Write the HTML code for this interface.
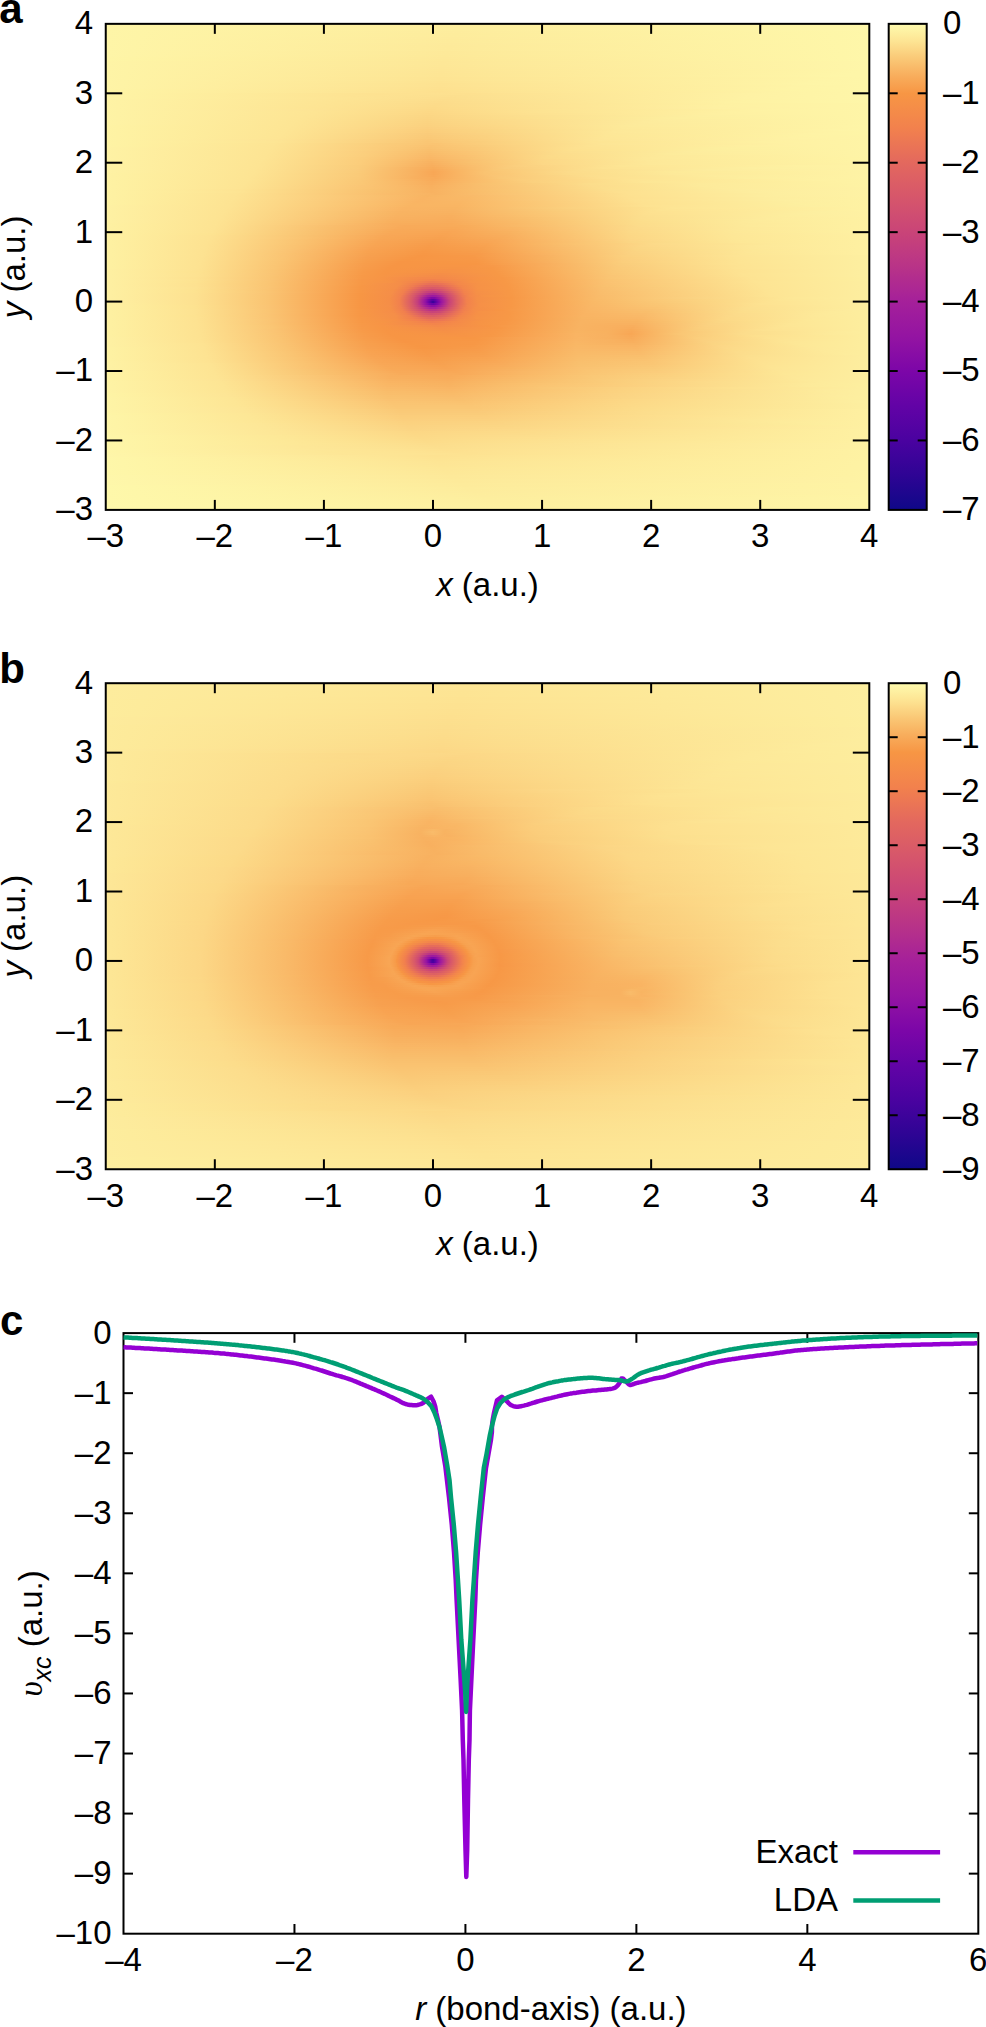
<!DOCTYPE html>
<html><head><meta charset="utf-8"><style>
html,body{margin:0;padding:0;background:#fff;width:986px;height:2027px;overflow:hidden;}
svg text{font-family:"Liberation Sans", sans-serif;fill:#000;}
.hm{position:absolute;overflow:hidden;}
.hm div{position:absolute;left:0;}
</style></head><body>
<div class="hm" style="left:105px;top:23px;width:765px;height:487px">
<div style="top:0px;height:2px;width:765px;background:linear-gradient(90deg,#fef6a8 0.5px,#fded9e 357.5px,#fef7aa 764.5px)"></div>
<div style="top:2px;height:2px;width:765px;background:linear-gradient(90deg,#fef5a7 0.5px,#fded9e 356.5px,#fef7aa 764.5px)"></div>
<div style="top:4px;height:2px;width:765px;background:linear-gradient(90deg,#fef5a7 0.5px,#fded9d 354.5px,#fef7aa 764.5px)"></div>
<div style="top:6px;height:2px;width:765px;background:linear-gradient(90deg,#fef5a7 0.5px,#fded9d 353.5px,#fef7aa 764.5px)"></div>
<div style="top:8px;height:2px;width:765px;background:linear-gradient(90deg,#fef5a7 0.5px,#fdec9d 352.5px,#fef7a9 764.5px)"></div>
<div style="top:10px;height:2px;width:765px;background:linear-gradient(90deg,#fef5a7 0.5px,#fdec9c 351.5px,#fef7a9 764.5px)"></div>
<div style="top:12px;height:2px;width:765px;background:linear-gradient(90deg,#fef5a7 0.5px,#fdec9c 350.5px,#fef7a9 764.5px)"></div>
<div style="top:14px;height:2px;width:765px;background:linear-gradient(90deg,#fef5a7 0.5px,#fdeb9c 348.5px,#fef7a9 764.5px)"></div>
<div style="top:16px;height:2px;width:765px;background:linear-gradient(90deg,#fef5a7 0.5px,#fdeb9b 347.5px,#fef7a9 764.5px)"></div>
<div style="top:18px;height:2px;width:765px;background:linear-gradient(90deg,#fef5a7 0.5px,#fdeb9b 346.5px,#fef7a9 764.5px)"></div>
<div style="top:20px;height:2px;width:765px;background:linear-gradient(90deg,#fef5a7 0.5px,#fdea9b 345.5px,#fef7a9 764.5px)"></div>
<div style="top:22px;height:2px;width:765px;background:linear-gradient(90deg,#fef5a7 0.5px,#fdea9a 344.5px,#fef7a9 764.5px)"></div>
<div style="top:24px;height:2px;width:765px;background:linear-gradient(90deg,#fef5a7 0.5px,#fdea9a 343.5px,#fef7a9 764.5px)"></div>
<div style="top:26px;height:2px;width:765px;background:linear-gradient(90deg,#fef5a7 0.5px,#fdea9a 343.5px,#fef7a9 764.5px)"></div>
<div style="top:28px;height:2px;width:765px;background:linear-gradient(90deg,#fef5a7 0.5px,#fde999 342.5px,#fef7a9 764.5px)"></div>
<div style="top:30px;height:2px;width:765px;background:linear-gradient(90deg,#fef5a7 0.5px,#fde999 341.5px,#fef7a9 764.5px)"></div>
<div style="top:32px;height:2px;width:765px;background:linear-gradient(90deg,#fef5a7 0.5px,#fde998 340.5px,#fef7a9 764.5px)"></div>
<div style="top:34px;height:2px;width:765px;background:linear-gradient(90deg,#fef5a6 0.5px,#fde898 339.5px,#fef7a9 764.5px)"></div>
<div style="top:36px;height:2px;width:765px;background:linear-gradient(90deg,#fef5a6 0.5px,#fde897 339.5px,#fef7a9 764.5px)"></div>
<div style="top:38px;height:2px;width:765px;background:linear-gradient(90deg,#fef4a6 0.5px,#fde797 338.5px,#fef6a9 764.5px)"></div>
<div style="top:40px;height:2px;width:765px;background:linear-gradient(90deg,#fef4a6 0.5px,#fde797 337.5px,#fef6a9 764.5px)"></div>
<div style="top:42px;height:2px;width:765px;background:linear-gradient(90deg,#fef4a6 0.5px,#fde796 337.5px,#fef6a9 764.5px)"></div>
<div style="top:44px;height:2px;width:765px;background:linear-gradient(90deg,#fef4a6 0.5px,#fde696 336.5px,#fef6a9 764.5px)"></div>
<div style="top:46px;height:2px;width:765px;background:linear-gradient(90deg,#fef4a6 0.5px,#fde695 336.5px,#fef6a8 757.5px,#fef6a8 764.5px)"></div>
<div style="top:48px;height:2px;width:765px;background:linear-gradient(90deg,#fef4a6 0.5px,#fde595 335.5px,#fef6a8 751.5px,#fef6a8 764.5px)"></div>
<div style="top:50px;height:2px;width:765px;background:linear-gradient(90deg,#fef4a6 0.5px,#fde594 335.5px,#fef6a8 744.5px,#fef6a8 764.5px)"></div>
<div style="top:52px;height:2px;width:765px;background:linear-gradient(90deg,#fef4a6 0.5px,#fde594 335.5px,#fef6a8 736.5px,#fef6a8 764.5px)"></div>
<div style="top:54px;height:2px;width:765px;background:linear-gradient(90deg,#fef4a6 0.5px,#fde493 334.5px,#fef5a7 730.5px,#fef6a8 764.5px)"></div>
<div style="top:56px;height:2px;width:765px;background:linear-gradient(90deg,#fef4a6 0.5px,#fde493 334.5px,#fef5a7 722.5px,#fef6a8 764.5px)"></div>
<div style="top:58px;height:2px;width:765px;background:linear-gradient(90deg,#fef4a6 0.5px,#fde392 334.5px,#fef5a7 714.5px,#fef6a8 764.5px)"></div>
<div style="top:60px;height:2px;width:765px;background:linear-gradient(90deg,#fef4a6 0.5px,#fde291 335.5px,#fef5a7 705.5px,#fef6a8 764.5px)"></div>
<div style="top:62px;height:2px;width:765px;background:linear-gradient(90deg,#fef4a6 0.5px,#fde291 334.5px,#fef4a6 698.5px,#fef6a8 764.5px)"></div>
<div style="top:64px;height:2px;width:765px;background:linear-gradient(90deg,#fef4a6 0.5px,#fde190 334.5px,#fef4a6 690.5px,#fef6a8 764.5px)"></div>
<div style="top:66px;height:2px;width:765px;background:linear-gradient(90deg,#fef4a5 0.5px,#fde18f 334.5px,#fef4a5 681.5px,#fef6a8 764.5px)"></div>
<div style="top:68px;height:2px;width:765px;background:linear-gradient(90deg,#fef4a5 0.5px,#fde08f 333.5px,#fef3a5 675.5px,#fef6a8 764.5px)"></div>
<div style="top:70px;height:2px;width:765px;background:linear-gradient(90deg,#fef4a5 0.5px,#fde291 263.5px,#fde08f 363.5px,#fef2a4 645.5px,#fef6a8 764.5px)"></div>
<div style="top:72px;height:2px;width:765px;background:linear-gradient(90deg,#fef4a5 0.5px,#fde392 247.5px,#fcdf8e 350.5px,#fef2a4 644.5px,#fef6a8 764.5px)"></div>
<div style="top:74px;height:2px;width:765px;background:linear-gradient(90deg,#fef4a5 0.5px,#fde493 238.5px,#fcde8d 343.5px,#fef2a4 641.5px,#fef6a8 764.5px)"></div>
<div style="top:76px;height:2px;width:765px;background:linear-gradient(90deg,#fef3a5 0.5px,#fde493 231.5px,#fcdd8c 339.5px,#fef2a3 636.5px,#fef6a8 764.5px)"></div>
<div style="top:78px;height:2px;width:765px;background:linear-gradient(90deg,#fef3a5 0.5px,#fde493 225.5px,#fcdc8b 335.5px,#fef2a3 630.5px,#fef6a8 764.5px)"></div>
<div style="top:80px;height:2px;width:765px;background:linear-gradient(90deg,#fef3a5 0.5px,#fde493 220.5px,#fcdb8a 332.5px,#fef1a2 624.5px,#fef5a7 764.5px)"></div>
<div style="top:82px;height:2px;width:765px;background:linear-gradient(90deg,#fef3a5 0.5px,#fde493 215.5px,#fcdb89 330.5px,#fef1a2 617.5px,#fef5a7 764.5px)"></div>
<div style="top:84px;height:2px;width:765px;background:linear-gradient(90deg,#fef3a5 0.5px,#fde493 211.5px,#fcda88 328.5px,#fef0a2 610.5px,#fef5a7 764.5px)"></div>
<div style="top:86px;height:2px;width:765px;background:linear-gradient(90deg,#fef3a5 0.5px,#fde494 207.5px,#fcd987 326.5px,#fde493 447.5px,#fef2a3 649.5px,#fef5a7 764.5px)"></div>
<div style="top:88px;height:2px;width:765px;background:linear-gradient(90deg,#fef3a5 0.5px,#fde594 203.5px,#fcd886 325.5px,#fde392 435.5px,#fef1a2 627.5px,#fef5a7 764.5px)"></div>
<div style="top:90px;height:2px;width:765px;background:linear-gradient(90deg,#fef3a5 0.5px,#fde594 200.5px,#fcd785 324.5px,#fde190 426.5px,#fef0a1 609.5px,#fef5a7 764.5px)"></div>
<div style="top:92px;height:2px;width:765px;background:linear-gradient(90deg,#fef3a5 0.5px,#fde594 197.5px,#fbd684 323.5px,#fcdf8e 418.5px,#fdefa0 592.5px,#fef5a7 764.5px)"></div>
<div style="top:94px;height:2px;width:765px;background:linear-gradient(90deg,#fef3a5 0.5px,#fde594 194.5px,#fbd583 322.5px,#fcde8c 410.5px,#fdee9e 569.5px,#fef5a7 764.5px)"></div>
<div style="top:96px;height:2px;width:765px;background:linear-gradient(90deg,#fef3a5 0.5px,#fde594 192.5px,#fbd482 322.5px,#fcdc8b 406.5px,#fdec9d 553.5px,#fef5a7 764.5px)"></div>
<div style="top:98px;height:2px;width:765px;background:linear-gradient(90deg,#fef3a5 0.5px,#fde594 189.5px,#fbd381 322.5px,#fcdb8a 403.5px,#fdeb9c 540.5px,#fef5a7 764.5px)"></div>
<div style="top:100px;height:2px;width:765px;background:linear-gradient(90deg,#fef3a5 0.5px,#fde594 187.5px,#fbd280 322.5px,#fcda89 399.5px,#fdea9b 529.5px,#fef5a7 764.5px)"></div>
<div style="top:102px;height:2px;width:765px;background:linear-gradient(90deg,#fef3a4 0.5px,#fde594 185.5px,#fbd17f 322.5px,#fcd987 396.5px,#fdea9a 522.5px,#fef5a7 758.5px,#fef5a7 764.5px)"></div>
<div style="top:104px;height:2px;width:765px;background:linear-gradient(90deg,#fef3a4 0.5px,#fde594 183.5px,#fbcf7e 322.5px,#fcd786 392.5px,#fde999 517.5px,#fef4a6 743.5px,#fef5a7 764.5px)"></div>
<div style="top:106px;height:2px;width:765px;background:linear-gradient(90deg,#fef3a4 0.5px,#fde594 181.5px,#fbce7c 322.5px,#fbd684 389.5px,#fde898 513.5px,#fef4a6 731.5px,#fef5a7 764.5px)"></div>
<div style="top:108px;height:2px;width:765px;background:linear-gradient(90deg,#fef3a4 0.5px,#fde594 179.5px,#fbcd7b 322.5px,#fbd583 386.5px,#fde898 509.5px,#fef3a5 719.5px,#fef5a6 764.5px)"></div>
<div style="top:110px;height:2px;width:765px;background:linear-gradient(90deg,#fef3a4 0.5px,#fde594 177.5px,#facb7a 322.5px,#fbd382 383.5px,#fde797 505.5px,#fef3a5 708.5px,#fef5a6 764.5px)"></div>
<div style="top:112px;height:2px;width:765px;background:linear-gradient(90deg,#fef3a4 0.5px,#fde594 175.5px,#faca78 323.5px,#fbd280 382.5px,#fde796 502.5px,#fef3a4 699.5px,#fef4a6 764.5px)"></div>
<div style="top:114px;height:2px;width:765px;background:linear-gradient(90deg,#fef3a4 0.5px,#fde594 173.5px,#fac977 323.5px,#fbd17f 379.5px,#fde696 498.5px,#fef2a4 688.5px,#fef4a6 764.5px)"></div>
<div style="top:116px;height:2px;width:765px;background:linear-gradient(90deg,#fef3a4 0.5px,#fde494 172.5px,#fac775 323.5px,#fbcf7d 375.5px,#fde595 492.5px,#fef1a3 673.5px,#fef4a6 764.5px)"></div>
<div style="top:118px;height:2px;width:765px;background:linear-gradient(90deg,#fef3a4 0.5px,#fde594 170.5px,#fac674 322.5px,#facd7b 371.5px,#fde493 486.5px,#fef1a2 659.5px,#fef4a6 764.5px)"></div>
<div style="top:120px;height:2px;width:765px;background:linear-gradient(90deg,#fef3a4 0.5px,#fde493 169.5px,#facc7a 281.5px,#fac472 329.5px,#fbd07e 388.5px,#fde595 497.5px,#fef1a3 678.5px,#fef4a6 764.5px)"></div>
<div style="top:122px;height:2px;width:765px;background:linear-gradient(90deg,#fef3a4 0.5px,#fde493 167.5px,#fbcd7b 274.5px,#fac270 326.5px,#facc7a 377.5px,#fde392 482.5px,#fef0a1 645.5px,#fef4a6 764.5px)"></div>
<div style="top:124px;height:2px;width:765px;background:linear-gradient(90deg,#fef2a4 0.5px,#fde493 166.5px,#fbcd7b 270.5px,#f9c16f 324.5px,#fac977 370.5px,#fde190 470.5px,#fdef9f 618.5px,#fef4a6 764.5px)"></div>
<div style="top:126px;height:2px;width:765px;background:linear-gradient(90deg,#fef2a4 0.5px,#fde493 164.5px,#fbce7c 266.5px,#f9bf6d 324.5px,#fac876 368.5px,#fde08e 464.5px,#fdee9e 604.5px,#fef4a6 764.5px)"></div>
<div style="top:128px;height:2px;width:765px;background:linear-gradient(90deg,#fef2a4 0.5px,#fde493 163.5px,#fbcd7c 264.5px,#f9bd6b 324.5px,#fac574 365.5px,#fcde8d 458.5px,#fdec9d 584.5px,#fef4a6 764.5px)"></div>
<div style="top:130px;height:2px;width:765px;background:linear-gradient(90deg,#fef2a4 0.5px,#fde493 161.5px,#fbce7c 261.5px,#f9bb69 324.5px,#fac472 363.5px,#fcdc8b 452.5px,#fdeb9b 565.5px,#fef4a6 764.5px)"></div>
<div style="top:132px;height:2px;width:765px;background:linear-gradient(90deg,#fef2a4 0.5px,#fde493 160.5px,#fbce7c 259.5px,#f9b968 324.5px,#fac170 360.5px,#fcdb89 445.5px,#fde999 551.5px,#fef4a6 764.5px)"></div>
<div style="top:134px;height:2px;width:765px;background:linear-gradient(90deg,#fef2a4 0.5px,#fde493 159.5px,#fbcd7b 258.5px,#f9b766 325.5px,#f9c16f 361.5px,#fcda88 442.5px,#fde999 547.5px,#fef4a5 764.5px)"></div>
<div style="top:136px;height:2px;width:765px;background:linear-gradient(90deg,#fef2a4 0.5px,#fde493 157.5px,#fbcd7b 256.5px,#f9b563 325.5px,#f9be6d 358.5px,#fcd786 435.5px,#fde898 540.5px,#fef4a5 764.5px)"></div>
<div style="top:138px;height:2px;width:765px;background:linear-gradient(90deg,#fef2a4 0.5px,#fde493 156.5px,#fbcd7b 255.5px,#f8b261 326.5px,#f9c06e 363.5px,#fcd886 438.5px,#fde898 544.5px,#fef4a5 764.5px)"></div>
<div style="top:140px;height:2px;width:765px;background:linear-gradient(90deg,#fef2a4 0.5px,#fde493 154.5px,#fbcd7b 254.5px,#f8b05f 326.5px,#f9bf6d 364.5px,#fcd786 437.5px,#fde898 543.5px,#fef3a5 764.5px)"></div>
<div style="top:142px;height:2px;width:765px;background:linear-gradient(90deg,#fef2a4 0.5px,#fde493 153.5px,#facc7a 254.5px,#f8ae5d 327.5px,#fbcf7e 410.5px,#fde594 515.5px,#fef1a2 692.5px,#fef3a5 764.5px)"></div>
<div style="top:144px;height:2px;width:765px;background:linear-gradient(90deg,#fef2a4 0.5px,#fde493 152.5px,#facc7a 253.5px,#f8b261 310.5px,#f8ac5a 328.5px,#facb7a 399.5px,#fde291 497.5px,#fdefa0 647.5px,#fef3a5 764.5px)"></div>
<div style="top:146px;height:2px;width:765px;background:linear-gradient(90deg,#fef2a4 0.5px,#fde493 150.5px,#facb7a 253.5px,#f8b261 308.5px,#f8a958 328.5px,#fac775 389.5px,#fcde8d 479.5px,#fdec9d 604.5px,#fef3a5 764.5px)"></div>
<div style="top:148px;height:2px;width:765px;background:linear-gradient(90deg,#fef2a4 0.5px,#fde493 149.5px,#facb79 253.5px,#f8b261 307.5px,#f8a756 328.5px,#fac371 379.5px,#fcdb8a 463.5px,#fdea99 569.5px,#fef3a5 764.5px)"></div>
<div style="top:150px;height:2px;width:765px;background:linear-gradient(90deg,#fef2a3 0.5px,#fde493 147.5px,#faca78 253.5px,#f8b261 307.5px,#f8a756 328.5px,#fac270 378.5px,#fcdb89 464.5px,#fde999 569.5px,#fef3a5 764.5px)"></div>
<div style="top:152px;height:2px;width:765px;background:linear-gradient(90deg,#fef2a3 0.5px,#fde493 146.5px,#faca78 253.5px,#f8b160 308.5px,#f8a857 328.5px,#fac574 388.5px,#fcde8d 485.5px,#fdec9c 608.5px,#fef3a5 764.5px)"></div>
<div style="top:154px;height:2px;width:765px;background:linear-gradient(90deg,#fef2a3 0.5px,#fde493 144.5px,#fac977 254.5px,#f8af5e 312.5px,#f8aa59 330.5px,#fac876 396.5px,#fde08f 499.5px,#fdee9e 638.5px,#fef3a5 764.5px)"></div>
<div style="top:156px;height:2px;width:765px;background:linear-gradient(90deg,#fef2a3 0.5px,#fde493 143.5px,#fac876 255.5px,#f8ab5a 327.5px,#fbcd7b 414.5px,#fde493 527.5px,#fef1a2 706.5px,#fef3a4 764.5px)"></div>
<div style="top:158px;height:2px;width:765px;background:linear-gradient(90deg,#fef2a3 0.5px,#fde493 141.5px,#fac775 257.5px,#f8ad5c 327.5px,#fbd07e 427.5px,#fde695 539.5px,#fef2a3 738.5px,#fef3a4 764.5px)"></div>
<div style="top:160px;height:2px;width:765px;background:linear-gradient(90deg,#fef2a3 0.5px,#fde493 139.5px,#fac674 259.5px,#f8ae5d 326.5px,#f9c06e 377.5px,#fcdd8b 485.5px,#fdea9a 593.5px,#fef3a4 764.5px)"></div>
<div style="top:162px;height:2px;width:765px;background:linear-gradient(90deg,#fef2a3 0.5px,#fde493 138.5px,#fac473 262.5px,#f8b05f 326.5px,#f9be6d 374.5px,#fcdc8b 487.5px,#fdea9a 594.5px,#fef3a4 764.5px)"></div>
<div style="top:164px;height:2px;width:765px;background:linear-gradient(90deg,#fef2a3 0.5px,#fde493 136.5px,#fac371 265.5px,#f8b160 326.5px,#f9be6d 375.5px,#fcde8c 496.5px,#fdeb9b 611.5px,#fef2a4 764.5px)"></div>
<div style="top:166px;height:2px;width:765px;background:linear-gradient(90deg,#fef2a3 0.5px,#fde392 135.5px,#f9c16f 270.5px,#f8b261 326.5px,#f9bf6d 377.5px,#fcdf8e 505.5px,#fdec9d 631.5px,#fef2a4 764.5px)"></div>
<div style="top:168px;height:2px;width:765px;background:linear-gradient(90deg,#fef2a3 0.5px,#fde493 133.5px,#f9bf6d 275.5px,#f8b261 326.5px,#f9bf6d 379.5px,#fde08f 512.5px,#fded9e 647.5px,#fef2a4 764.5px)"></div>
<div style="top:170px;height:2px;width:765px;background:linear-gradient(90deg,#fef2a3 0.5px,#fde392 132.5px,#f9bb6a 286.5px,#f8b362 330.5px,#fde190 522.5px,#fdee9f 669.5px,#fef2a4 764.5px)"></div>
<div style="top:172px;height:2px;width:765px;background:linear-gradient(90deg,#fef2a3 0.5px,#fde392 130.5px,#f8b462 321.5px,#f9ba69 366.5px,#fde08f 518.5px,#fded9e 655.5px,#fef2a4 764.5px)"></div>
<div style="top:174px;height:2px;width:765px;background:linear-gradient(90deg,#fef2a3 0.5px,#fde392 129.5px,#f9b463 318.5px,#f9b967 362.5px,#fde08f 523.5px,#fded9e 665.5px,#fef2a3 764.5px)"></div>
<div style="top:176px;height:2px;width:765px;background:linear-gradient(90deg,#fef2a3 0.5px,#fde392 127.5px,#f9b463 315.5px,#f9b867 360.5px,#fde190 528.5px,#fdee9f 676.5px,#fef2a3 764.5px)"></div>
<div style="top:178px;height:2px;width:765px;background:linear-gradient(90deg,#fef2a3 0.5px,#fde392 126.5px,#f9b463 311.5px,#f9b765 357.5px,#fde190 532.5px,#fdee9f 685.5px,#fef2a3 764.5px)"></div>
<div style="top:180px;height:2px;width:765px;background:linear-gradient(90deg,#fef2a3 0.5px,#fde392 124.5px,#f9b563 307.5px,#f9b664 354.5px,#fde190 536.5px,#fdef9f 694.5px,#fef2a3 764.5px)"></div>
<div style="top:182px;height:2px;width:765px;background:linear-gradient(90deg,#fef1a3 0.5px,#fde392 123.5px,#f9b563 303.5px,#f9b563 352.5px,#fde291 540.5px,#fdefa0 704.5px,#fef2a3 764.5px)"></div>
<div style="top:184px;height:2px;width:765px;background:linear-gradient(90deg,#fef1a3 0.5px,#fde392 121.5px,#f9b463 300.5px,#f8b462 350.5px,#fbd17f 465.5px,#fde594 567.5px,#fef2a3 764.5px)"></div>
<div style="top:186px;height:2px;width:765px;background:linear-gradient(90deg,#fef1a3 0.5px,#fde392 120.5px,#f9b463 297.5px,#f8b362 349.5px,#facc7a 451.5px,#fde392 554.5px,#fef1a2 747.5px,#fef2a3 764.5px)"></div>
<div style="top:188px;height:2px;width:765px;background:linear-gradient(90deg,#fef1a3 0.5px,#fde392 119.5px,#f8b362 295.5px,#f8b261 348.5px,#fac876 441.5px,#fde190 545.5px,#fdefa0 711.5px,#fef1a3 764.5px)"></div>
<div style="top:190px;height:2px;width:765px;background:linear-gradient(90deg,#fef1a3 0.5px,#fde392 117.5px,#f8b361 293.5px,#f8b15f 347.5px,#fac573 432.5px,#fde08f 541.5px,#fdee9f 694.5px,#fef1a3 764.5px)"></div>
<div style="top:192px;height:2px;width:765px;background:linear-gradient(90deg,#fef1a3 0.5px,#fde392 116.5px,#f8b261 292.5px,#f8af5e 346.5px,#fac270 425.5px,#fcdf8e 538.5px,#fded9d 677.5px,#fef1a3 764.5px)"></div>
<div style="top:194px;height:2px;width:765px;background:linear-gradient(90deg,#fef1a3 0.5px,#fde392 115.5px,#f8b160 290.5px,#f8ae5d 345.5px,#f9bf6d 420.5px,#fcde8d 535.5px,#fdeb9c 660.5px,#fef1a2 764.5px)"></div>
<div style="top:196px;height:2px;width:765px;background:linear-gradient(90deg,#fef1a3 0.5px,#fde392 114.5px,#f8b05f 289.5px,#f8ad5c 346.5px,#f9be6c 420.5px,#fcde8c 534.5px,#fdeb9b 651.5px,#fef1a2 764.5px)"></div>
<div style="top:198px;height:2px;width:765px;background:linear-gradient(90deg,#fef1a3 0.5px,#fde392 112.5px,#f8af5d 289.5px,#f8ac5b 347.5px,#f9bc6a 417.5px,#fcdd8b 532.5px,#fdea9a 641.5px,#fef1a2 764.5px)"></div>
<div style="top:200px;height:2px;width:765px;background:linear-gradient(90deg,#fef1a2 0.5px,#fde392 111.5px,#f8ad5c 288.5px,#f8ab59 346.5px,#f9b967 410.5px,#fcdc8a 530.5px,#fde999 636.5px,#fef1a2 764.5px)"></div>
<div style="top:202px;height:2px;width:765px;background:linear-gradient(90deg,#fef1a2 0.5px,#fde392 110.5px,#f9bc6b 231.5px,#f8aa59 299.5px,#f8ab59 357.5px,#f9be6d 431.5px,#fcdc8b 535.5px,#fdea9a 645.5px,#fef1a2 764.5px)"></div>
<div style="top:204px;height:2px;width:765px;background:linear-gradient(90deg,#fef1a2 0.5px,#fde392 109.5px,#f9be6c 223.5px,#f8aa59 294.5px,#f8a957 351.5px,#f9b765 412.5px,#fcda89 528.5px,#fde898 632.5px,#fef1a2 764.5px)"></div>
<div style="top:206px;height:2px;width:765px;background:linear-gradient(90deg,#fef1a2 0.5px,#fde392 108.5px,#f9bf6e 217.5px,#f8a958 290.5px,#f8a756 347.5px,#f9b463 407.5px,#fcd988 526.5px,#fde898 630.5px,#fef1a2 764.5px)"></div>
<div style="top:208px;height:2px;width:765px;background:linear-gradient(90deg,#fef1a2 0.5px,#fde392 107.5px,#f9c06e 213.5px,#f8a957 286.5px,#f8a554 343.5px,#f8b260 404.5px,#fcd987 525.5px,#fde897 629.5px,#fef1a2 764.5px)"></div>
<div style="top:210px;height:2px;width:765px;background:linear-gradient(90deg,#fef1a2 0.5px,#fde391 106.5px,#f9c16f 208.5px,#f8a857 283.5px,#f8a452 340.5px,#f8b05e 402.5px,#fcd886 524.5px,#fde797 628.5px,#fef0a2 764.5px)"></div>
<div style="top:212px;height:2px;width:765px;background:linear-gradient(90deg,#fef1a2 0.5px,#fde291 105.5px,#f9c16f 204.5px,#f8a756 279.5px,#f8a251 336.5px,#f8ad5c 398.5px,#fcd785 523.5px,#fde796 627.5px,#fef0a1 764.5px)"></div>
<div style="top:214px;height:2px;width:765px;background:linear-gradient(90deg,#fef1a2 0.5px,#fde291 104.5px,#fac270 201.5px,#f8a755 277.5px,#f7a14f 334.5px,#f8ab59 394.5px,#fcd785 524.5px,#fde796 629.5px,#fef0a1 764.5px)"></div>
<div style="top:216px;height:2px;width:765px;background:linear-gradient(90deg,#fef1a2 0.5px,#fde291 103.5px,#fac270 197.5px,#f8a655 274.5px,#f79f4e 331.5px,#f8a857 390.5px,#fcd685 525.5px,#fde796 631.5px,#fef0a1 764.5px)"></div>
<div style="top:218px;height:2px;width:765px;background:linear-gradient(90deg,#fef1a2 0.5px,#fde291 102.5px,#fac371 194.5px,#f8a554 272.5px,#f79e4c 329.5px,#f8a655 386.5px,#fbd684 526.5px,#fde796 634.5px,#fef0a1 764.5px)"></div>
<div style="top:220px;height:2px;width:765px;background:linear-gradient(90deg,#fef1a2 0.5px,#fde291 101.5px,#fac371 192.5px,#f8a553 270.5px,#f79c4b 326.5px,#f8a452 382.5px,#fac270 466.5px,#fcda89 548.5px,#fde999 667.5px,#fef0a1 764.5px)"></div>
<div style="top:222px;height:2px;width:765px;background:linear-gradient(90deg,#fef1a2 0.5px,#fde291 100.5px,#fac371 189.5px,#f8a453 268.5px,#f79b49 324.5px,#f8a250 380.5px,#f9bc6b 453.5px,#fcd786 536.5px,#fde898 651.5px,#fef0a1 764.5px)"></div>
<div style="top:224px;height:2px;width:765px;background:linear-gradient(90deg,#fef1a2 0.5px,#fde291 100.5px,#fac371 188.5px,#f8a352 266.5px,#f79a48 322.5px,#f7a04e 377.5px,#f9b968 448.5px,#fbd684 532.5px,#fde797 646.5px,#fef0a1 764.5px)"></div>
<div style="top:226px;height:2px;width:765px;background:linear-gradient(90deg,#fef1a2 0.5px,#fde291 99.5px,#fac372 185.5px,#f8a251 265.5px,#f79947 321.5px,#f79f4d 376.5px,#f9b867 448.5px,#fbd583 531.5px,#fde796 646.5px,#fef0a1 764.5px)"></div>
<div style="top:228px;height:2px;width:765px;background:linear-gradient(90deg,#fef1a2 0.5px,#fde291 98.5px,#fac372 183.5px,#f8a250 263.5px,#f79846 318.5px,#f79d4b 373.5px,#f9b664 444.5px,#fbd382 527.5px,#fde696 641.5px,#fef0a1 764.5px)"></div>
<div style="top:230px;height:2px;width:765px;background:linear-gradient(90deg,#fef1a2 0.5px,#fde291 98.5px,#fac371 182.5px,#f7a14f 263.5px,#f79745 318.5px,#f79b4a 373.5px,#f9b564 445.5px,#fbd281 526.5px,#fde695 641.5px,#fef0a1 764.5px)"></div>
<div style="top:232px;height:2px;width:765px;background:linear-gradient(90deg,#fef1a2 0.5px,#fde291 97.5px,#fac372 180.5px,#f7a04f 262.5px,#f79644 314.5px,#f79947 367.5px,#f8b05f 436.5px,#fbd07e 518.5px,#fde494 629.5px,#fdefa0 764.5px)"></div>
<div style="top:234px;height:2px;width:765px;background:linear-gradient(90deg,#fef1a2 0.5px,#fde291 96.5px,#fac472 178.5px,#f79f4e 261.5px,#f79644 307.5px,#f79847 369.5px,#f8b15f 439.5px,#fbcf7d 518.5px,#fde493 631.5px,#fdefa0 764.5px)"></div>
<div style="top:236px;height:2px;width:765px;background:linear-gradient(90deg,#fef1a2 0.5px,#fde291 96.5px,#fac472 177.5px,#f79f4d 260.5px,#f79644 301.5px,#f79846 371.5px,#f8b15f 441.5px,#fbce7d 518.5px,#fde493 633.5px,#fdefa0 764.5px)"></div>
<div style="top:238px;height:2px;width:765px;background:linear-gradient(90deg,#fef1a2 0.5px,#fde291 95.5px,#fac472 175.5px,#f79e4c 260.5px,#f79544 296.5px,#f79745 371.5px,#f8b05f 441.5px,#fbce7c 517.5px,#fde493 633.5px,#fdefa0 764.5px)"></div>
<div style="top:240px;height:2px;width:765px;background:linear-gradient(90deg,#fef1a2 0.5px,#fde291 95.5px,#fac472 174.5px,#f79d4b 259.5px,#f79544 292.5px,#f79644 371.5px,#f8ad5c 438.5px,#facc7a 513.5px,#fde392 627.5px,#fdefa0 764.5px)"></div>
<div style="top:242px;height:2px;width:765px;background:linear-gradient(90deg,#fef1a2 0.5px,#fde291 94.5px,#fac472 172.5px,#f79c4b 259.5px,#f79544 288.5px,#f79545 363.5px,#f79948 388.5px,#facb7a 514.5px,#fde392 632.5px,#fdefa0 764.5px)"></div>
<div style="top:244px;height:2px;width:765px;background:linear-gradient(90deg,#fef1a2 0.5px,#fde291 94.5px,#fac472 172.5px,#f79c4a 258.5px,#f79544 284.5px,#f69445 353.5px,#f79846 387.5px,#faca78 512.5px,#fde392 631.5px,#fdefa0 764.5px)"></div>
<div style="top:246px;height:2px;width:765px;background:linear-gradient(90deg,#fef0a2 0.5px,#fde291 93.5px,#fac472 170.5px,#f79b49 258.5px,#f79544 282.5px,#f69246 346.5px,#f79846 388.5px,#fac977 510.5px,#fde291 631.5px,#fdefa0 764.5px)"></div>
<div style="top:248px;height:2px;width:765px;background:linear-gradient(90deg,#fef0a2 0.5px,#fde290 93.5px,#fac472 170.5px,#f79a48 258.5px,#f79544 280.5px,#f69146 340.5px,#f79846 390.5px,#fac876 508.5px,#fde291 632.5px,#fdefa0 764.5px)"></div>
<div style="top:250px;height:2px;width:765px;background:linear-gradient(90deg,#fef0a2 0.5px,#fde291 92.5px,#fac473 168.5px,#f79a48 257.5px,#f79544 277.5px,#f58e47 336.5px,#f79846 392.5px,#fac775 507.5px,#fde392 637.5px,#fdefa0 764.5px)"></div>
<div style="top:252px;height:2px;width:765px;background:linear-gradient(90deg,#fef0a2 0.5px,#fde291 92.5px,#fac472 168.5px,#f79947 257.5px,#f79545 277.5px,#f48b49 333.5px,#f79846 394.5px,#fac574 505.5px,#fde392 640.5px,#fdefa0 764.5px)"></div>
<div style="top:254px;height:2px;width:765px;background:linear-gradient(90deg,#fef0a2 0.5px,#fde190 92.5px,#fac472 167.5px,#f79947 257.5px,#f79445 277.5px,#f4894a 317.5px,#f4894a 337.5px,#f79445 377.5px,#f79846 398.5px,#fac573 504.5px,#fde392 645.5px,#fdef9f 764.5px)"></div>
<div style="top:256px;height:2px;width:765px;background:linear-gradient(90deg,#fef0a2 0.5px,#fde291 91.5px,#fac473 166.5px,#f79847 256.5px,#f79445 278.5px,#f48a49 307.5px,#f2824d 328.5px,#f69345 372.5px,#f79846 399.5px,#fac371 502.5px,#fde392 647.5px,#fdef9f 764.5px)"></div>
<div style="top:258px;height:2px;width:765px;background:linear-gradient(90deg,#fef0a2 0.5px,#fde290 91.5px,#fac472 166.5px,#f79846 256.5px,#f69246 286.5px,#f3854b 309.5px,#ed7952 327.5px,#f2824d 342.5px,#f69146 366.5px,#f79846 399.5px,#fac271 501.5px,#fde493 651.5px,#fdee9f 764.5px)"></div>
<div style="top:260px;height:2px;width:765px;background:linear-gradient(90deg,#fef0a2 0.5px,#fde190 91.5px,#fac472 165.5px,#f79846 256.5px,#f58d48 295.5px,#ef7c50 312.5px,#e76f59 325.5px,#ea7356 336.5px,#f4884a 353.5px,#f69246 373.5px,#f79846 401.5px,#fac170 500.5px,#fde493 654.5px,#fdee9f 764.5px)"></div>
<div style="top:262px;height:2px;width:765px;background:linear-gradient(90deg,#fef0a2 0.5px,#fde190 91.5px,#fac472 165.5px,#f79745 256.5px,#f58e48 292.5px,#ef7d50 307.5px,#e2665f 321.5px,#e16560 332.5px,#e97257 342.5px,#f3854b 354.5px,#f69146 371.5px,#f79846 402.5px,#f9c16f 499.5px,#fde493 656.5px,#fdee9f 764.5px)"></div>
<div style="top:264px;height:2px;width:765px;background:linear-gradient(90deg,#fef0a2 0.5px,#fde291 90.5px,#fac473 164.5px,#f79745 255.5px,#f58e48 290.5px,#f07e4f 303.5px,#de6163 317.5px,#d85969 327.5px,#dd6064 337.5px,#ea7356 347.5px,#f3864b 357.5px,#f69246 373.5px,#f79846 403.5px,#f9bf6e 497.5px,#fde493 658.5px,#fdee9f 764.5px)"></div>
<div style="top:266px;height:2px;width:765px;background:linear-gradient(90deg,#fef0a2 0.5px,#fde290 90.5px,#fac472 164.5px,#f79745 255.5px,#f58e47 288.5px,#f17f4e 300.5px,#d7576a 317.5px,#cf4c72 326.5px,#d2516f 334.5px,#e76e5a 348.5px,#f3844c 358.5px,#f69146 372.5px,#f79846 404.5px,#f9be6d 496.5px,#fde493 660.5px,#fdee9f 764.5px)"></div>
<div style="top:268px;height:2px;width:765px;background:linear-gradient(90deg,#fef0a2 0.5px,#fde290 90.5px,#fac573 163.5px,#f79745 255.5px,#f58e48 287.5px,#f1804e 298.5px,#c84379 321.5px,#c23d7f 328.5px,#ca4577 335.5px,#f2824d 358.5px,#f59047 371.5px,#f79846 404.5px,#f9bd6c 495.5px,#fde493 662.5px,#fdee9f 764.5px)"></div>
<div style="top:270px;height:2px;width:765px;background:linear-gradient(90deg,#fef0a2 0.5px,#fde190 90.5px,#fac473 163.5px,#f79644 255.5px,#f58e48 286.5px,#f17f4e 297.5px,#ce4b73 314.5px,#b32e8d 324.5px,#b02b8f 329.5px,#bf3a81 336.5px,#e2675f 350.5px,#f2814d 359.5px,#f58f47 371.5px,#f79846 405.5px,#f9bc6b 493.5px,#fde493 663.5px,#fdee9f 764.5px)"></div>
<div style="top:272px;height:2px;width:765px;background:linear-gradient(90deg,#fef0a2 0.5px,#fde190 90.5px,#fac472 163.5px,#f79644 255.5px,#f58e47 285.5px,#f2814d 295.5px,#d5556c 309.5px,#be3982 316.5px,#a5209a 322.5px,#9b199f 327.5px,#9f1c9d 331.5px,#a92496 334.5px,#cd4a74 343.5px,#ed7952 357.5px,#f4884a 364.5px,#f69246 378.5px,#f79846 406.5px,#f9bb6a 492.5px,#fde493 664.5px,#fdee9f 764.5px)"></div>
<div style="top:274px;height:2px;width:765px;background:linear-gradient(90deg,#fef0a2 0.5px,#fde190 90.5px,#fac472 163.5px,#f79644 255.5px,#f58e47 284.5px,#f2824d 294.5px,#da5c67 306.5px,#c43f7d 313.5px,#a41f9b 319.5px,#7f08a7 326.5px,#7f08a7 329.5px,#a41f9a 336.5px,#c94478 343.5px,#e16660 352.5px,#f2824d 361.5px,#f58f47 372.5px,#f79745 405.5px,#f9bb69 491.5px,#fbd382 589.5px,#fde796 684.5px,#fdee9f 764.5px)"></div>
<div style="top:276px;height:2px;width:765px;background:linear-gradient(90deg,#fef0a2 0.5px,#fde190 90.5px,#fac472 163.5px,#f79644 255.5px,#f58e47 284.5px,#f2814d 294.5px,#d95a68 306.5px,#c5407c 312.5px,#a11e9c 318.5px,#8b0fa4 321.5px,#7705a8 323.5px,#5a03a4 326.5px,#5602a3 327.5px,#5602a3 328.5px,#6203a6 330.5px,#8109a7 333.5px,#9514a2 335.5px,#a82397 338.5px,#c94478 344.5px,#e06461 352.5px,#f2814d 361.5px,#f58f47 372.5px,#f79846 406.5px,#f9ba68 489.5px,#fbcf7d 577.5px,#fde594 672.5px,#fdee9f 764.5px)"></div>
<div style="top:278px;height:2px;width:765px;background:linear-gradient(90deg,#fef0a2 0.5px,#fde190 90.5px,#fac472 163.5px,#f79644 255.5px,#f58e47 284.5px,#f2814d 294.5px,#d85969 306.5px,#c43f7d 312.5px,#9f1c9d 318.5px,#9112a3 320.5px,#7b06a8 322.5px,#5602a3 325.5px,#3c039a 327.5px,#3c039a 328.5px,#6203a6 331.5px,#7c06a8 333.5px,#9917a0 336.5px,#a62199 338.5px,#c43f7d 343.5px,#de6163 351.5px,#f2814d 361.5px,#f58f47 372.5px,#f79846 406.5px,#f9b967 488.5px,#facc7a 569.5px,#fde392 662.5px,#fdee9f 764.5px)"></div>
<div style="top:280px;height:2px;width:765px;background:linear-gradient(90deg,#fef1a2 0.5px,#fde190 90.5px,#fac472 163.5px,#f79644 255.5px,#f58e47 284.5px,#f2814d 294.5px,#d95b68 306.5px,#c6417b 312.5px,#a41f9a 318.5px,#880da5 322.5px,#7705a8 324.5px,#6904a7 326.5px,#6603a6 328.5px,#6f05a7 330.5px,#7f08a7 332.5px,#9817a0 335.5px,#ab2695 338.5px,#ca4677 344.5px,#e76f59 355.5px,#f2834c 362.5px,#f69047 374.5px,#f79846 406.5px,#f9b866 486.5px,#fac977 563.5px,#fde291 654.5px,#fdee9f 764.5px)"></div>
<div style="top:282px;height:2px;width:765px;background:linear-gradient(90deg,#fef1a2 0.5px,#fde290 90.5px,#fac473 163.5px,#f79644 255.5px,#f58e48 285.5px,#f1804e 295.5px,#d6566b 308.5px,#c23d7f 314.5px,#a41f9a 320.5px,#8c10a4 326.5px,#8c10a4 329.5px,#a41f9a 335.5px,#ca4677 343.5px,#e97257 355.5px,#f3844c 362.5px,#f69047 374.5px,#f79846 406.5px,#f9b766 485.5px,#fac674 556.5px,#fde08f 648.5px,#fdee9f 764.5px)"></div>
<div style="top:284px;height:2px;width:765px;background:linear-gradient(90deg,#fef1a2 0.5px,#fde290 90.5px,#fac473 163.5px,#f79644 255.5px,#f58e47 285.5px,#f1804e 296.5px,#d2506f 311.5px,#b42f8c 320.5px,#a5209a 325.5px,#a5209a 330.5px,#bb3685 337.5px,#d5546c 345.5px,#f1804e 359.5px,#f58e47 370.5px,#f79846 405.5px,#f9b665 483.5px,#fac371 550.5px,#fcdf8e 642.5px,#fdee9e 761.5px,#fdee9e 764.5px)"></div>
<div style="top:286px;height:2px;width:765px;background:linear-gradient(90deg,#fef1a2 0.5px,#fde291 90.5px,#fac573 163.5px,#f79745 255.5px,#f58e47 286.5px,#f1804e 297.5px,#cc4875 316.5px,#ba3586 324.5px,#b93487 330.5px,#ca4577 338.5px,#f07e4f 357.5px,#f58d48 368.5px,#f79544 395.5px,#f79f4d 422.5px,#f9b665 484.5px,#f9c06f 546.5px,#fcde8d 638.5px,#fdec9d 745.5px,#fdee9e 764.5px)"></div>
<div style="top:288px;height:2px;width:765px;background:linear-gradient(90deg,#fef1a2 0.5px,#fde291 90.5px,#fac573 163.5px,#f79745 255.5px,#f58d48 288.5px,#f17f4e 299.5px,#ce4b73 320.5px,#c84379 327.5px,#cc4975 334.5px,#e97357 351.5px,#f3844c 359.5px,#f69146 373.5px,#f79846 404.5px,#f9b564 481.5px,#f9be6c 542.5px,#fcdd8b 633.5px,#fdeb9b 728.5px,#fdee9e 764.5px)"></div>
<div style="top:290px;height:2px;width:765px;background:linear-gradient(90deg,#fef1a2 0.5px,#fde291 90.5px,#fac473 164.5px,#f79745 255.5px,#f58e48 289.5px,#f17f4e 301.5px,#da5c67 317.5px,#d3516e 326.5px,#d7576a 335.5px,#e76f59 347.5px,#f3844c 357.5px,#f69046 371.5px,#f79846 404.5px,#f9b463 479.5px,#f9bb6a 539.5px,#fcdb8a 629.5px,#fdea9a 718.5px,#fdee9e 764.5px)"></div>
<div style="top:292px;height:2px;width:765px;background:linear-gradient(90deg,#fef1a2 0.5px,#fde290 91.5px,#fac472 165.5px,#f79745 255.5px,#f58e48 291.5px,#f17f4f 304.5px,#e06461 318.5px,#db5e66 328.5px,#e2675f 339.5px,#f3854b 355.5px,#f69146 371.5px,#f79846 403.5px,#f9b463 478.5px,#f9b968 536.5px,#fcda89 625.5px,#fde999 711.5px,#fdee9e 764.5px)"></div>
<div style="top:294px;height:2px;width:765px;background:linear-gradient(90deg,#fef1a2 0.5px,#fde291 91.5px,#fac473 165.5px,#f79846 255.5px,#f58f47 290.5px,#f17f4e 307.5px,#e4695d 323.5px,#e46a5d 333.5px,#f3864b 353.5px,#f69246 371.5px,#f79846 402.5px,#f8b462 477.5px,#f9b766 534.5px,#fcd987 621.5px,#fde898 706.5px,#fdee9e 764.5px)"></div>
<div style="top:296px;height:2px;width:765px;background:linear-gradient(90deg,#fef1a2 0.5px,#fde291 91.5px,#fac573 165.5px,#f79846 256.5px,#f69046 290.5px,#f2804e 311.5px,#ea7456 325.5px,#ed7853 337.5px,#f48b49 355.5px,#f69445 379.5px,#f79846 402.5px,#f8b362 476.5px,#f9b563 532.5px,#fcd886 617.5px,#fde897 701.5px,#fdee9e 764.5px)"></div>
<div style="top:298px;height:2px;width:765px;background:linear-gradient(90deg,#fef1a2 0.5px,#fde291 91.5px,#fac473 166.5px,#f79846 256.5px,#f69445 279.5px,#f48a49 305.5px,#f07d50 327.5px,#f4884a 347.5px,#f69345 372.5px,#f79846 400.5px,#f8b362 475.5px,#f8b361 531.5px,#fbd684 612.5px,#fde796 694.5px,#fdee9e 764.5px)"></div>
<div style="top:300px;height:2px;width:765px;background:linear-gradient(90deg,#fef1a2 0.5px,#fde291 92.5px,#fac472 167.5px,#f79947 256.5px,#f79445 276.5px,#f48a49 309.5px,#f3844c 330.5px,#f69445 374.5px,#f79846 399.5px,#f8b362 474.5px,#f8b160 509.5px,#f8b160 531.5px,#fbd382 605.5px,#fde695 685.5px,#fdee9e 764.5px)"></div>
<div style="top:302px;height:2px;width:765px;background:linear-gradient(90deg,#fef1a2 0.5px,#fde291 92.5px,#fac573 167.5px,#f79948 256.5px,#f79545 276.5px,#f4894a 332.5px,#f79544 384.5px,#f79d4b 410.5px,#f8b362 474.5px,#f8b05f 507.5px,#f8ae5d 528.5px,#fbd180 600.5px,#fde594 678.5px,#fdee9e 764.5px)"></div>
<div style="top:304px;height:2px;width:765px;background:linear-gradient(90deg,#fef1a2 0.5px,#fde291 92.5px,#fac573 168.5px,#f79a48 256.5px,#f79544 277.5px,#f58d48 334.5px,#f79745 393.5px,#f8b362 473.5px,#f8b05f 504.5px,#f8ac5b 527.5px,#fbcf7d 594.5px,#fde392 668.5px,#fdee9e 764.5px)"></div>
<div style="top:306px;height:2px;width:765px;background:linear-gradient(90deg,#fef1a2 0.5px,#fde291 93.5px,#fac473 169.5px,#f79a49 257.5px,#f79544 279.5px,#f58f47 337.5px,#f79846 392.5px,#f8b362 472.5px,#f8b05f 503.5px,#f8aa58 526.5px,#facc7a 587.5px,#fde190 656.5px,#fdee9e 764.5px)"></div>
<div style="top:308px;height:2px;width:765px;background:linear-gradient(90deg,#fef1a2 0.5px,#fde291 93.5px,#fac473 170.5px,#f79b49 257.5px,#f79544 281.5px,#f69146 342.5px,#f79846 390.5px,#f8b462 472.5px,#f8b15f 502.5px,#f8a857 526.5px,#fac775 577.5px,#fcdd8c 641.5px,#fdec9c 740.5px,#fdee9e 764.5px)"></div>
<div style="top:310px;height:2px;width:765px;background:linear-gradient(90deg,#fef1a2 0.5px,#fde291 94.5px,#fac472 172.5px,#f79c4a 258.5px,#f79544 284.5px,#f69345 349.5px,#f79846 388.5px,#f9b463 471.5px,#f8b160 501.5px,#f8a755 525.5px,#fac674 573.5px,#fcdc8b 636.5px,#fdea9a 725.5px,#fdee9e 764.5px)"></div>
<div style="top:312px;height:2px;width:765px;background:linear-gradient(90deg,#fef1a2 0.5px,#fde291 94.5px,#fac473 172.5px,#f79c4b 258.5px,#f79544 287.5px,#f79445 359.5px,#f79846 386.5px,#f9b463 471.5px,#f8b160 502.5px,#f8a958 526.5px,#faca78 583.5px,#fde08e 650.5px,#fdee9e 764.5px)"></div>
<div style="top:314px;height:2px;width:765px;background:linear-gradient(90deg,#fef1a3 0.5px,#fde291 95.5px,#fac472 174.5px,#f79d4c 258.5px,#f79544 291.5px,#f79644 369.5px,#f8a655 423.5px,#f9b564 474.5px,#f8b05f 505.5px,#f8ab5a 526.5px,#fbce7c 591.5px,#fde291 663.5px,#fdee9e 764.5px)"></div>
<div style="top:316px;height:2px;width:765px;background:linear-gradient(90deg,#fef1a3 0.5px,#fde291 95.5px,#fac472 175.5px,#f79e4c 259.5px,#f79544 295.5px,#f79745 372.5px,#f9b564 471.5px,#f8b261 504.5px,#f8ad5c 527.5px,#fbd07f 597.5px,#fde493 674.5px,#fdee9e 764.5px)"></div>
<div style="top:318px;height:2px;width:765px;background:linear-gradient(90deg,#fef1a3 0.5px,#fde291 96.5px,#fac472 176.5px,#f79f4d 260.5px,#f79544 300.5px,#f79846 372.5px,#f9b665 471.5px,#f8b261 505.5px,#f8af5e 528.5px,#fbd382 604.5px,#fde695 684.5px,#fdee9e 764.5px)"></div>
<div style="top:320px;height:2px;width:765px;background:linear-gradient(90deg,#fef1a3 0.5px,#fde392 96.5px,#fac473 177.5px,#f7a04e 260.5px,#f79644 306.5px,#f79846 370.5px,#f9b765 471.5px,#f8b362 508.5px,#f8b261 531.5px,#fbd583 609.5px,#fde796 691.5px,#fdee9e 764.5px)"></div>
<div style="top:322px;height:2px;width:765px;background:linear-gradient(90deg,#fef1a3 0.5px,#fde392 97.5px,#fac472 179.5px,#f7a04f 261.5px,#f79644 312.5px,#f79947 368.5px,#f9b866 472.5px,#f9b463 530.5px,#fcd786 616.5px,#fde897 700.5px,#fdee9e 764.5px)"></div>
<div style="top:324px;height:2px;width:765px;background:linear-gradient(90deg,#fef2a3 0.5px,#fde392 98.5px,#fac472 181.5px,#f7a150 262.5px,#f79644 317.5px,#f79b49 372.5px,#f9b867 471.5px,#f9b665 531.5px,#fcd988 621.5px,#fde898 706.5px,#fdee9e 764.5px)"></div>
<div style="top:326px;height:2px;width:765px;background:linear-gradient(90deg,#fef2a3 0.5px,#fde392 98.5px,#fac472 182.5px,#f8a250 263.5px,#f79846 318.5px,#f79c4b 373.5px,#f9b968 471.5px,#f9b867 532.5px,#fcdb89 627.5px,#fde999 714.5px,#fdee9e 764.5px)"></div>
<div style="top:328px;height:2px;width:765px;background:linear-gradient(90deg,#fef2a3 0.5px,#fde392 99.5px,#fac472 185.5px,#f8a351 264.5px,#f79947 320.5px,#f79e4c 375.5px,#f9ba68 471.5px,#f9bb69 534.5px,#fcdc8b 631.5px,#fdea9a 723.5px,#fdee9e 764.5px)"></div>
<div style="top:330px;height:2px;width:765px;background:linear-gradient(90deg,#fef2a3 0.5px,#fde392 100.5px,#fac472 187.5px,#f8a352 266.5px,#f79a48 322.5px,#f7a04e 378.5px,#f9bb69 472.5px,#f9bc6b 535.5px,#fcdd8c 636.5px,#fdec9c 739.5px,#fdee9e 764.5px)"></div>
<div style="top:332px;height:2px;width:765px;background:linear-gradient(90deg,#fef2a3 0.5px,#fde392 101.5px,#fac371 190.5px,#f8a453 267.5px,#f79b4a 323.5px,#f7a150 379.5px,#f9bc6a 472.5px,#f9bf6d 537.5px,#fcdf8e 641.5px,#fded9e 758.5px,#fdee9e 764.5px)"></div>
<div style="top:334px;height:2px;width:765px;background:linear-gradient(90deg,#fef2a3 0.5px,#fde392 101.5px,#fac472 191.5px,#f8a554 269.5px,#f79d4b 326.5px,#f8a452 383.5px,#f9bd6b 472.5px,#f9c16f 539.5px,#fde08f 645.5px,#fdee9f 764.5px)"></div>
<div style="top:336px;height:2px;width:765px;background:linear-gradient(90deg,#fef2a3 0.5px,#fde392 102.5px,#fac371 194.5px,#f8a655 271.5px,#f79e4c 328.5px,#f8a654 386.5px,#f9be6c 473.5px,#fac371 541.5px,#fde190 650.5px,#fdee9f 764.5px)"></div>
<div style="top:338px;height:2px;width:765px;background:linear-gradient(90deg,#fef2a4 0.5px,#fde392 103.5px,#fac371 197.5px,#f8a655 274.5px,#f7a04e 331.5px,#f8a857 391.5px,#f9bf6d 473.5px,#fac573 544.5px,#fde291 654.5px,#fdee9f 764.5px)"></div>
<div style="top:340px;height:2px;width:765px;background:linear-gradient(90deg,#fef2a4 0.5px,#fde493 104.5px,#fac371 200.5px,#f8a756 277.5px,#f7a150 334.5px,#f8ab5a 396.5px,#f9c06e 474.5px,#fac674 546.5px,#fde392 659.5px,#fdee9f 764.5px)"></div>
<div style="top:342px;height:2px;width:765px;background:linear-gradient(90deg,#fef2a4 0.5px,#fde493 105.5px,#fac270 204.5px,#f8a857 280.5px,#f8a351 338.5px,#f8ae5d 403.5px,#f9c16f 475.5px,#fac876 549.5px,#fde493 662.5px,#fdee9f 764.5px)"></div>
<div style="top:344px;height:2px;width:765px;background:linear-gradient(90deg,#fef2a4 0.5px,#fde493 106.5px,#fac170 208.5px,#f8a957 283.5px,#f8a453 341.5px,#f8b15f 406.5px,#fac271 477.5px,#faca78 551.5px,#fde594 667.5px,#fdee9f 764.5px)"></div>
<div style="top:346px;height:2px;width:765px;background:linear-gradient(90deg,#fef2a4 0.5px,#fde493 107.5px,#f9c16f 213.5px,#f8a958 287.5px,#f8a655 345.5px,#f8b362 409.5px,#fac472 480.5px,#facc7a 553.5px,#fde595 671.5px,#fdee9f 764.5px)"></div>
<div style="top:348px;height:2px;width:765px;background:linear-gradient(90deg,#fef3a4 0.5px,#fde493 108.5px,#f9c06e 219.5px,#f8aa59 291.5px,#f8a857 350.5px,#f9b665 415.5px,#fac573 484.5px,#fbcd7c 556.5px,#fde695 675.5px,#fdee9f 764.5px)"></div>
<div style="top:350px;height:2px;width:765px;background:linear-gradient(90deg,#fef3a4 0.5px,#fde493 109.5px,#f9bf6d 225.5px,#f8ab5a 296.5px,#f8aa59 356.5px,#fac674 484.5px,#fbd07e 561.5px,#fde796 679.5px,#fdee9f 764.5px)"></div>
<div style="top:352px;height:2px;width:765px;background:linear-gradient(90deg,#fef3a4 0.5px,#fde493 111.5px,#f8af5e 284.5px,#f8ab5a 344.5px,#f9b866 411.5px,#fac876 486.5px,#fbd280 567.5px,#fde797 684.5px,#fdee9f 764.5px)"></div>
<div style="top:354px;height:2px;width:765px;background:linear-gradient(90deg,#fef3a4 0.5px,#fde493 112.5px,#f8b05f 284.5px,#f8ac5b 343.5px,#f9ba69 415.5px,#fac977 490.5px,#fbd483 574.5px,#fde898 690.5px,#fdee9f 764.5px)"></div>
<div style="top:356px;height:2px;width:765px;background:linear-gradient(90deg,#fef3a4 0.5px,#fde494 113.5px,#f8b261 284.5px,#f8ae5d 343.5px,#f9bd6b 420.5px,#facb79 496.5px,#fcd786 584.5px,#fde999 698.5px,#fdee9f 764.5px)"></div>
<div style="top:358px;height:2px;width:765px;background:linear-gradient(90deg,#fef3a5 0.5px,#fde594 114.5px,#f9b463 283.5px,#f8b05f 343.5px,#f9bf6d 423.5px,#facc7a 502.5px,#fcdb8a 601.5px,#fdeb9b 717.5px,#fdee9f 764.5px)"></div>
<div style="top:360px;height:2px;width:765px;background:linear-gradient(90deg,#fef3a5 0.5px,#fde594 115.5px,#f9b664 283.5px,#f8b260 344.5px,#fac270 429.5px,#fbce7c 513.5px,#fdea9a 703.5px,#fdef9f 764.5px)"></div>
<div style="top:362px;height:2px;width:765px;background:linear-gradient(90deg,#fef3a5 0.5px,#fde594 117.5px,#f9b766 282.5px,#f8b362 344.5px,#fac472 433.5px,#fbd07f 526.5px,#fdea9a 701.5px,#fdef9f 764.5px)"></div>
<div style="top:364px;height:2px;width:765px;background:linear-gradient(90deg,#fef3a5 0.5px,#fde594 118.5px,#f9b968 282.5px,#f9b564 345.5px,#fac876 447.5px,#fde190 628.5px,#fdefa0 764.5px)"></div>
<div style="top:366px;height:2px;width:765px;background:linear-gradient(90deg,#fef3a5 0.5px,#fde594 119.5px,#f9bb69 282.5px,#f9b766 346.5px,#fbd17f 506.5px,#fdeb9c 719.5px,#fdefa0 764.5px)"></div>
<div style="top:368px;height:2px;width:765px;background:linear-gradient(90deg,#fef3a5 0.5px,#fde594 121.5px,#f9bd6b 281.5px,#f9b967 347.5px,#fbd280 509.5px,#fdec9c 723.5px,#fdefa0 764.5px)"></div>
<div style="top:370px;height:2px;width:765px;background:linear-gradient(90deg,#fef4a5 0.5px,#fde595 122.5px,#f9be6c 281.5px,#f9bb69 348.5px,#fbd382 512.5px,#fdec9d 728.5px,#fdefa0 764.5px)"></div>
<div style="top:372px;height:2px;width:765px;background:linear-gradient(90deg,#fef4a5 0.5px,#fde595 124.5px,#f9c06e 281.5px,#f9bc6b 349.5px,#fbd483 515.5px,#fded9e 734.5px,#fdefa0 764.5px)"></div>
<div style="top:374px;height:2px;width:765px;background:linear-gradient(90deg,#fef4a6 0.5px,#fde695 125.5px,#f9c16f 282.5px,#f9be6d 351.5px,#fbd584 517.5px,#fdee9e 741.5px,#fdefa0 764.5px)"></div>
<div style="top:376px;height:2px;width:765px;background:linear-gradient(90deg,#fef4a6 0.5px,#fde695 127.5px,#fac271 284.5px,#f9c06e 354.5px,#fcd785 520.5px,#fdee9f 748.5px,#fdefa0 764.5px)"></div>
<div style="top:378px;height:2px;width:765px;background:linear-gradient(90deg,#fef4a6 0.5px,#fde695 129.5px,#fac472 286.5px,#fac270 358.5px,#fcd886 522.5px,#fdefa0 757.5px,#fdefa0 764.5px)"></div>
<div style="top:380px;height:2px;width:765px;background:linear-gradient(90deg,#fef4a6 0.5px,#fde695 130.5px,#fac573 288.5px,#fac472 361.5px,#fcd987 524.5px,#fdefa0 764.5px)"></div>
<div style="top:382px;height:2px;width:765px;background:linear-gradient(90deg,#fef4a6 0.5px,#fde695 132.5px,#fac674 290.5px,#fac674 365.5px,#fcda88 527.5px,#fdefa0 764.5px)"></div>
<div style="top:384px;height:2px;width:765px;background:linear-gradient(90deg,#fef4a6 0.5px,#fde696 134.5px,#fac775 292.5px,#fac775 369.5px,#fcdb89 528.5px,#fdefa0 764.5px)"></div>
<div style="top:386px;height:2px;width:765px;background:linear-gradient(90deg,#fef4a6 0.5px,#fde696 136.5px,#fac977 294.5px,#fac977 372.5px,#fcdc8a 532.5px,#fef0a1 764.5px)"></div>
<div style="top:388px;height:2px;width:765px;background:linear-gradient(90deg,#fef4a6 0.5px,#fde696 138.5px,#faca78 294.5px,#faca79 371.5px,#fcdd8c 540.5px,#fef0a1 764.5px)"></div>
<div style="top:390px;height:2px;width:765px;background:linear-gradient(90deg,#fef5a6 0.5px,#fde796 140.5px,#facb7a 295.5px,#facc7a 374.5px,#fcde8d 548.5px,#fef0a1 764.5px)"></div>
<div style="top:392px;height:2px;width:765px;background:linear-gradient(90deg,#fef5a7 0.5px,#fde796 143.5px,#fbcd7b 296.5px,#fbce7c 377.5px,#fde08f 561.5px,#fef0a1 764.5px)"></div>
<div style="top:394px;height:2px;width:765px;background:linear-gradient(90deg,#fef5a7 0.5px,#fde796 145.5px,#fbce7c 297.5px,#fbcf7e 380.5px,#fde595 615.5px,#fef0a1 764.5px)"></div>
<div style="top:396px;height:2px;width:765px;background:linear-gradient(90deg,#fef5a7 0.5px,#fde796 147.5px,#fbcf7e 298.5px,#fbd17f 384.5px,#fde898 642.5px,#fef0a1 764.5px)"></div>
<div style="top:398px;height:2px;width:765px;background:linear-gradient(90deg,#fef5a7 0.5px,#fde796 150.5px,#fbd17f 299.5px,#fbd381 387.5px,#fdeb9b 676.5px,#fef0a1 764.5px)"></div>
<div style="top:400px;height:2px;width:765px;background:linear-gradient(90deg,#fef5a7 0.5px,#fde797 153.5px,#fbd280 301.5px,#fbd483 392.5px,#fdee9e 719.5px,#fef0a1 764.5px)"></div>
<div style="top:402px;height:2px;width:765px;background:linear-gradient(90deg,#fef5a7 0.5px,#fde797 156.5px,#fbd382 302.5px,#fbd684 396.5px,#fef0a1 760.5px,#fef0a1 764.5px)"></div>
<div style="top:404px;height:2px;width:765px;background:linear-gradient(90deg,#fef5a7 0.5px,#fde797 158.5px,#fbd483 304.5px,#fcd786 402.5px,#fef0a2 764.5px)"></div>
<div style="top:406px;height:2px;width:765px;background:linear-gradient(90deg,#fef5a7 0.5px,#fde797 162.5px,#fbd584 306.5px,#fcd988 408.5px,#fef1a2 764.5px)"></div>
<div style="top:408px;height:2px;width:765px;background:linear-gradient(90deg,#fef5a7 0.5px,#fde797 165.5px,#fcd785 308.5px,#fcdb89 415.5px,#fef1a2 764.5px)"></div>
<div style="top:410px;height:2px;width:765px;background:linear-gradient(90deg,#fef5a8 0.5px,#fde797 168.5px,#fcd886 310.5px,#fcdc8b 424.5px,#fef1a2 764.5px)"></div>
<div style="top:412px;height:2px;width:765px;background:linear-gradient(90deg,#fef6a8 0.5px,#fde897 172.5px,#fcd987 312.5px,#fcde8d 434.5px,#fef1a2 764.5px)"></div>
<div style="top:414px;height:2px;width:765px;background:linear-gradient(90deg,#fef6a8 0.5px,#fde897 176.5px,#fcda88 315.5px,#fde08f 452.5px,#fef1a2 764.5px)"></div>
<div style="top:416px;height:2px;width:765px;background:linear-gradient(90deg,#fef6a8 0.5px,#fde897 180.5px,#fcdb89 318.5px,#fde999 612.5px,#fef1a2 764.5px)"></div>
<div style="top:418px;height:2px;width:765px;background:linear-gradient(90deg,#fef6a8 0.5px,#fde897 185.5px,#fcdc8a 322.5px,#fef1a2 764.5px)"></div>
<div style="top:420px;height:2px;width:765px;background:linear-gradient(90deg,#fef6a8 0.5px,#fde897 190.5px,#fcdd8c 326.5px,#fef1a3 764.5px)"></div>
<div style="top:422px;height:2px;width:765px;background:linear-gradient(90deg,#fef6a8 0.5px,#fde797 196.5px,#fcde8d 330.5px,#fef1a3 764.5px)"></div>
<div style="top:424px;height:2px;width:765px;background:linear-gradient(90deg,#fef6a8 0.5px,#fde797 202.5px,#fcdf8e 335.5px,#fef1a3 764.5px)"></div>
<div style="top:426px;height:2px;width:765px;background:linear-gradient(90deg,#fef6a8 0.5px,#fde797 210.5px,#fde08f 342.5px,#fef2a3 764.5px)"></div>
<div style="top:428px;height:2px;width:765px;background:linear-gradient(90deg,#fef6a8 0.5px,#fde796 220.5px,#fde190 350.5px,#fef2a3 764.5px)"></div>
<div style="top:430px;height:2px;width:765px;background:linear-gradient(90deg,#fef6a9 0.5px,#fde696 236.5px,#fde291 364.5px,#fef2a3 764.5px)"></div>
<div style="top:432px;height:2px;width:765px;background:linear-gradient(90deg,#fef6a9 0.5px,#fde291 331.5px,#fef2a3 764.5px)"></div>
<div style="top:434px;height:2px;width:765px;background:linear-gradient(90deg,#fef7a9 0.5px,#fde392 331.5px,#fef2a3 764.5px)"></div>
<div style="top:436px;height:2px;width:765px;background:linear-gradient(90deg,#fef7a9 0.5px,#fde493 332.5px,#fef2a3 759.5px,#fef2a3 764.5px)"></div>
<div style="top:438px;height:2px;width:765px;background:linear-gradient(90deg,#fef7a9 0.5px,#fde594 333.5px,#fef2a3 752.5px,#fef2a4 764.5px)"></div>
<div style="top:440px;height:2px;width:765px;background:linear-gradient(90deg,#fef7a9 0.5px,#fde595 335.5px,#fef2a3 750.5px,#fef2a4 764.5px)"></div>
<div style="top:442px;height:2px;width:765px;background:linear-gradient(90deg,#fef7a9 0.5px,#fde695 337.5px,#fef2a3 748.5px,#fef2a4 764.5px)"></div>
<div style="top:444px;height:2px;width:765px;background:linear-gradient(90deg,#fef7a9 0.5px,#fde796 339.5px,#fef2a3 746.5px,#fef2a4 764.5px)"></div>
<div style="top:446px;height:2px;width:765px;background:linear-gradient(90deg,#fef7a9 0.5px,#fde797 341.5px,#fef2a3 745.5px,#fef2a4 764.5px)"></div>
<div style="top:448px;height:2px;width:765px;background:linear-gradient(90deg,#fef7a9 0.5px,#fde897 343.5px,#fef2a3 743.5px,#fef3a4 764.5px)"></div>
<div style="top:450px;height:2px;width:765px;background:linear-gradient(90deg,#fef7a9 0.5px,#fde898 345.5px,#fef2a3 742.5px,#fef3a4 764.5px)"></div>
<div style="top:452px;height:2px;width:765px;background:linear-gradient(90deg,#fef7aa 0.5px,#fde999 347.5px,#fef2a3 741.5px,#fef3a4 764.5px)"></div>
<div style="top:454px;height:2px;width:765px;background:linear-gradient(90deg,#fef7aa 0.5px,#fde999 349.5px,#fef2a4 741.5px,#fef3a4 764.5px)"></div>
<div style="top:456px;height:2px;width:765px;background:linear-gradient(90deg,#fef7aa 0.5px,#fdea9a 352.5px,#fef2a4 742.5px,#fef3a5 764.5px)"></div>
<div style="top:458px;height:2px;width:765px;background:linear-gradient(90deg,#fef7aa 0.5px,#fdea9a 355.5px,#fef2a4 743.5px,#fef3a5 764.5px)"></div>
<div style="top:460px;height:2px;width:765px;background:linear-gradient(90deg,#fef7aa 0.5px,#fdeb9b 358.5px,#fef3a4 744.5px,#fef3a5 764.5px)"></div>
<div style="top:462px;height:2px;width:765px;background:linear-gradient(90deg,#fef8aa 0.5px,#fdeb9b 361.5px,#fef3a4 746.5px,#fef3a5 764.5px)"></div>
<div style="top:464px;height:2px;width:765px;background:linear-gradient(90deg,#fef8aa 0.5px,#fdec9c 364.5px,#fef3a4 747.5px,#fef3a5 764.5px)"></div>
<div style="top:466px;height:2px;width:765px;background:linear-gradient(90deg,#fef8aa 0.5px,#fdec9c 367.5px,#fef3a5 749.5px,#fef3a5 764.5px)"></div>
<div style="top:468px;height:2px;width:765px;background:linear-gradient(90deg,#fef8aa 0.5px,#fdec9d 371.5px,#fef3a5 753.5px,#fef4a5 764.5px)"></div>
<div style="top:470px;height:2px;width:765px;background:linear-gradient(90deg,#fef8aa 0.5px,#fded9d 375.5px,#fef3a5 756.5px,#fef4a5 764.5px)"></div>
<div style="top:472px;height:2px;width:765px;background:linear-gradient(90deg,#fef8aa 0.5px,#fded9e 379.5px,#fef4a5 761.5px,#fef4a5 764.5px)"></div>
<div style="top:474px;height:2px;width:765px;background:linear-gradient(90deg,#fef8aa 0.5px,#fdee9e 383.5px,#fef4a6 764.5px)"></div>
<div style="top:476px;height:2px;width:765px;background:linear-gradient(90deg,#fef8aa 0.5px,#fdee9f 388.5px,#fef4a6 764.5px)"></div>
<div style="top:478px;height:2px;width:765px;background:linear-gradient(90deg,#fef8aa 0.5px,#fdee9f 393.5px,#fef4a6 764.5px)"></div>
<div style="top:480px;height:2px;width:765px;background:linear-gradient(90deg,#fef8ab 0.5px,#fdef9f 398.5px,#fef4a6 764.5px)"></div>
<div style="top:482px;height:2px;width:765px;background:linear-gradient(90deg,#fef8ab 0.5px,#fdefa0 404.5px,#fef4a6 764.5px)"></div>
<div style="top:484px;height:2px;width:765px;background:linear-gradient(90deg,#fef8ab 0.5px,#fdefa0 411.5px,#fef4a6 764.5px)"></div>
<div style="top:486px;height:1px;width:765px;background:linear-gradient(90deg,#fef8ab 0.5px,#fdefa0 416.5px,#fef4a6 764.5px)"></div>
</div>
<div class="hm" style="left:105px;top:683px;width:765px;height:487px">
<div style="top:0px;height:2px;width:765px;background:linear-gradient(90deg,#fded9d 0.5px,#fde594 363.5px,#fdef9f 764.5px)"></div>
<div style="top:2px;height:2px;width:765px;background:linear-gradient(90deg,#fded9d 0.5px,#fde594 361.5px,#fdef9f 764.5px)"></div>
<div style="top:4px;height:2px;width:765px;background:linear-gradient(90deg,#fdec9d 0.5px,#fde594 360.5px,#fdef9f 764.5px)"></div>
<div style="top:6px;height:2px;width:765px;background:linear-gradient(90deg,#fdec9d 0.5px,#fde494 358.5px,#fdee9f 764.5px)"></div>
<div style="top:8px;height:2px;width:765px;background:linear-gradient(90deg,#fdec9d 0.5px,#fde493 357.5px,#fdee9f 764.5px)"></div>
<div style="top:10px;height:2px;width:765px;background:linear-gradient(90deg,#fdec9d 0.5px,#fde493 356.5px,#fdee9f 764.5px)"></div>
<div style="top:12px;height:2px;width:765px;background:linear-gradient(90deg,#fdec9d 0.5px,#fde493 355.5px,#fdee9f 764.5px)"></div>
<div style="top:14px;height:2px;width:765px;background:linear-gradient(90deg,#fdec9d 0.5px,#fde392 355.5px,#fdee9f 764.5px)"></div>
<div style="top:16px;height:2px;width:765px;background:linear-gradient(90deg,#fdec9c 0.5px,#fde392 354.5px,#fdee9f 764.5px)"></div>
<div style="top:18px;height:2px;width:765px;background:linear-gradient(90deg,#fdec9c 0.5px,#fde392 353.5px,#fdee9f 764.5px)"></div>
<div style="top:20px;height:2px;width:765px;background:linear-gradient(90deg,#fdec9c 0.5px,#fde291 352.5px,#fdee9f 764.5px)"></div>
<div style="top:22px;height:2px;width:765px;background:linear-gradient(90deg,#fdec9c 0.5px,#fde291 351.5px,#fdee9f 764.5px)"></div>
<div style="top:24px;height:2px;width:765px;background:linear-gradient(90deg,#fdec9c 0.5px,#fde291 350.5px,#fdee9f 764.5px)"></div>
<div style="top:26px;height:2px;width:765px;background:linear-gradient(90deg,#fdec9c 0.5px,#fde190 349.5px,#fdee9f 764.5px)"></div>
<div style="top:28px;height:2px;width:765px;background:linear-gradient(90deg,#fdec9c 0.5px,#fde190 348.5px,#fdee9f 764.5px)"></div>
<div style="top:30px;height:2px;width:765px;background:linear-gradient(90deg,#fdec9c 0.5px,#fde18f 347.5px,#fdee9f 764.5px)"></div>
<div style="top:32px;height:2px;width:765px;background:linear-gradient(90deg,#fdec9c 0.5px,#fde08f 346.5px,#fdee9f 764.5px)"></div>
<div style="top:34px;height:2px;width:765px;background:linear-gradient(90deg,#fdeb9c 0.5px,#fde08f 345.5px,#fdee9e 764.5px)"></div>
<div style="top:36px;height:2px;width:765px;background:linear-gradient(90deg,#fdeb9c 0.5px,#fddf8e 344.5px,#fdee9e 764.5px)"></div>
<div style="top:38px;height:2px;width:765px;background:linear-gradient(90deg,#fdeb9c 0.5px,#fcdf8e 343.5px,#fdee9e 764.5px)"></div>
<div style="top:40px;height:2px;width:765px;background:linear-gradient(90deg,#fdeb9c 0.5px,#fcdf8d 342.5px,#fdee9e 764.5px)"></div>
<div style="top:42px;height:2px;width:765px;background:linear-gradient(90deg,#fdeb9b 0.5px,#fcde8d 342.5px,#fdee9e 764.5px)"></div>
<div style="top:44px;height:2px;width:765px;background:linear-gradient(90deg,#fdeb9b 0.5px,#fcde8d 341.5px,#fded9e 764.5px)"></div>
<div style="top:46px;height:2px;width:765px;background:linear-gradient(90deg,#fdeb9b 0.5px,#fcdd8c 340.5px,#fded9e 764.5px)"></div>
<div style="top:48px;height:2px;width:765px;background:linear-gradient(90deg,#fdeb9b 0.5px,#fcdd8c 340.5px,#fded9e 764.5px)"></div>
<div style="top:50px;height:2px;width:765px;background:linear-gradient(90deg,#fdeb9b 0.5px,#fcdd8b 339.5px,#fded9e 764.5px)"></div>
<div style="top:52px;height:2px;width:765px;background:linear-gradient(90deg,#fdeb9b 0.5px,#fcdc8b 338.5px,#fded9e 764.5px)"></div>
<div style="top:54px;height:2px;width:765px;background:linear-gradient(90deg,#fdeb9b 0.5px,#fcdc8a 338.5px,#fded9e 760.5px,#fded9e 764.5px)"></div>
<div style="top:56px;height:2px;width:765px;background:linear-gradient(90deg,#fdeb9b 0.5px,#fcdb8a 337.5px,#fded9d 749.5px,#fded9e 764.5px)"></div>
<div style="top:58px;height:2px;width:765px;background:linear-gradient(90deg,#fdeb9b 0.5px,#fcdb89 337.5px,#fdec9d 737.5px,#fded9e 764.5px)"></div>
<div style="top:60px;height:2px;width:765px;background:linear-gradient(90deg,#fdeb9b 0.5px,#fcda89 337.5px,#fdec9d 726.5px,#fded9e 764.5px)"></div>
<div style="top:62px;height:2px;width:765px;background:linear-gradient(90deg,#fdeb9b 0.5px,#fcda88 336.5px,#fdec9c 715.5px,#fded9e 764.5px)"></div>
<div style="top:64px;height:2px;width:765px;background:linear-gradient(90deg,#fdeb9b 0.5px,#fcd988 336.5px,#fdeb9c 704.5px,#fded9d 764.5px)"></div>
<div style="top:66px;height:2px;width:765px;background:linear-gradient(90deg,#fdea9b 0.5px,#fcd887 336.5px,#fdeb9b 692.5px,#fded9d 764.5px)"></div>
<div style="top:68px;height:2px;width:765px;background:linear-gradient(90deg,#fdea9a 0.5px,#fcd886 335.5px,#fdeb9b 682.5px,#fded9d 764.5px)"></div>
<div style="top:70px;height:2px;width:765px;background:linear-gradient(90deg,#fdea9a 0.5px,#fcda89 254.5px,#fcd887 367.5px,#fde999 645.5px,#fded9d 764.5px)"></div>
<div style="top:72px;height:2px;width:765px;background:linear-gradient(90deg,#fdea9a 0.5px,#fcdb8a 241.5px,#fcd786 356.5px,#fde999 643.5px,#fded9d 764.5px)"></div>
<div style="top:74px;height:2px;width:765px;background:linear-gradient(90deg,#fdea9a 0.5px,#fcdb8a 232.5px,#fcd685 349.5px,#fde999 640.5px,#fded9d 764.5px)"></div>
<div style="top:76px;height:2px;width:765px;background:linear-gradient(90deg,#fdea9a 0.5px,#fcdc8a 226.5px,#fbd684 345.5px,#fde999 637.5px,#fded9d 764.5px)"></div>
<div style="top:78px;height:2px;width:765px;background:linear-gradient(90deg,#fdea9a 0.5px,#fcdc8a 220.5px,#fbd583 341.5px,#fde998 634.5px,#fded9d 764.5px)"></div>
<div style="top:80px;height:2px;width:765px;background:linear-gradient(90deg,#fdea9a 0.5px,#fcdc8b 215.5px,#fbd483 338.5px,#fde898 630.5px,#fdec9d 764.5px)"></div>
<div style="top:82px;height:2px;width:765px;background:linear-gradient(90deg,#fdea9a 0.5px,#fcdc8b 211.5px,#fbd482 336.5px,#fde898 627.5px,#fdec9d 764.5px)"></div>
<div style="top:84px;height:2px;width:765px;background:linear-gradient(90deg,#fdea9a 0.5px,#fcdc8b 207.5px,#fbd381 334.5px,#fde898 624.5px,#fdec9d 764.5px)"></div>
<div style="top:86px;height:2px;width:765px;background:linear-gradient(90deg,#fdea9a 0.5px,#fcdc8b 203.5px,#fbd280 332.5px,#fde897 620.5px,#fdec9d 764.5px)"></div>
<div style="top:88px;height:2px;width:765px;background:linear-gradient(90deg,#fdea9a 0.5px,#fcdc8b 200.5px,#fbd180 330.5px,#fde797 617.5px,#fdec9d 764.5px)"></div>
<div style="top:90px;height:2px;width:765px;background:linear-gradient(90deg,#fdea9a 0.5px,#fcdc8b 197.5px,#fbd07f 329.5px,#fde797 613.5px,#fdec9d 764.5px)"></div>
<div style="top:92px;height:2px;width:765px;background:linear-gradient(90deg,#fdea9a 0.5px,#fcdc8b 194.5px,#fbd07e 328.5px,#fde796 608.5px,#fdec9c 764.5px)"></div>
<div style="top:94px;height:2px;width:765px;background:linear-gradient(90deg,#fdea9a 0.5px,#fcdc8b 191.5px,#fbcf7d 328.5px,#fde696 603.5px,#fdec9c 764.5px)"></div>
<div style="top:96px;height:2px;width:765px;background:linear-gradient(90deg,#fdea9a 0.5px,#fcdc8b 189.5px,#fbce7c 327.5px,#fde696 599.5px,#fdec9c 764.5px)"></div>
<div style="top:98px;height:2px;width:765px;background:linear-gradient(90deg,#fdea99 0.5px,#fcdc8b 186.5px,#fbcd7b 326.5px,#fde695 594.5px,#fdec9c 764.5px)"></div>
<div style="top:100px;height:2px;width:765px;background:linear-gradient(90deg,#fde999 0.5px,#fcdc8b 184.5px,#facc7a 326.5px,#fde595 589.5px,#fdec9c 764.5px)"></div>
<div style="top:102px;height:2px;width:765px;background:linear-gradient(90deg,#fde999 0.5px,#fcdc8b 182.5px,#facb79 326.5px,#fde594 583.5px,#fdec9c 764.5px)"></div>
<div style="top:104px;height:2px;width:765px;background:linear-gradient(90deg,#fde999 0.5px,#fcdc8b 179.5px,#faca78 326.5px,#fde594 577.5px,#fdec9c 764.5px)"></div>
<div style="top:106px;height:2px;width:765px;background:linear-gradient(90deg,#fde999 0.5px,#fcdc8b 177.5px,#fac977 326.5px,#fcd887 446.5px,#fde796 621.5px,#fdec9c 764.5px)"></div>
<div style="top:108px;height:2px;width:765px;background:linear-gradient(90deg,#fde999 0.5px,#fcdc8b 176.5px,#fac876 326.5px,#fcd685 437.5px,#fde695 608.5px,#fdec9c 764.5px)"></div>
<div style="top:110px;height:2px;width:765px;background:linear-gradient(90deg,#fde999 0.5px,#fcdc8b 174.5px,#fac775 325.5px,#fbd280 410.5px,#fde493 572.5px,#fdeb9c 764.5px)"></div>
<div style="top:112px;height:2px;width:765px;background:linear-gradient(90deg,#fde999 0.5px,#fcdc8b 172.5px,#fac674 325.5px,#fbd07e 401.5px,#fde392 556.5px,#fdeb9c 764.5px)"></div>
<div style="top:114px;height:2px;width:765px;background:linear-gradient(90deg,#fde999 0.5px,#fcdc8b 170.5px,#fac573 325.5px,#fbcf7d 400.5px,#fde291 550.5px,#fdeb9c 764.5px)"></div>
<div style="top:116px;height:2px;width:765px;background:linear-gradient(90deg,#fde999 0.5px,#fcdc8a 169.5px,#fac472 325.5px,#fbce7c 398.5px,#fde190 543.5px,#fdeb9c 764.5px)"></div>
<div style="top:118px;height:2px;width:765px;background:linear-gradient(90deg,#fde999 0.5px,#fcdc8a 167.5px,#fac270 326.5px,#fbce7d 403.5px,#fde190 546.5px,#fdeb9b 764.5px)"></div>
<div style="top:120px;height:2px;width:765px;background:linear-gradient(90deg,#fde999 0.5px,#fcdc8a 166.5px,#f9c16f 326.5px,#fbce7c 402.5px,#fde18f 541.5px,#fdeb9b 764.5px)"></div>
<div style="top:122px;height:2px;width:765px;background:linear-gradient(90deg,#fde999 0.5px,#fcdc8a 164.5px,#f9c06e 327.5px,#fbd07f 418.5px,#fde291 564.5px,#fdeb9b 764.5px)"></div>
<div style="top:124px;height:2px;width:765px;background:linear-gradient(90deg,#fde999 0.5px,#fcdb8a 163.5px,#fac573 286.5px,#f9be6d 333.5px,#fcdb89 489.5px,#fde897 664.5px,#fdeb9b 764.5px)"></div>
<div style="top:126px;height:2px;width:765px;background:linear-gradient(90deg,#fde999 0.5px,#fcdb8a 161.5px,#fac574 279.5px,#f9bd6b 330.5px,#fcda88 484.5px,#fde797 655.5px,#fdeb9b 764.5px)"></div>
<div style="top:128px;height:2px;width:765px;background:linear-gradient(90deg,#fde999 0.5px,#fcdb8a 160.5px,#fac574 276.5px,#f9bb6a 329.5px,#fcd987 478.5px,#fde796 646.5px,#fdeb9b 764.5px)"></div>
<div style="top:130px;height:2px;width:765px;background:linear-gradient(90deg,#fde999 0.5px,#fcdb8a 159.5px,#fac674 273.5px,#f9ba68 327.5px,#fcd886 473.5px,#fde695 638.5px,#fdeb9b 764.5px)"></div>
<div style="top:132px;height:2px;width:765px;background:linear-gradient(90deg,#fde999 0.5px,#fcdb8a 157.5px,#fac674 270.5px,#f9b867 327.5px,#fcd685 465.5px,#fde595 626.5px,#fdeb9b 764.5px)"></div>
<div style="top:134px;height:2px;width:765px;background:linear-gradient(90deg,#fde998 0.5px,#fcdb8a 156.5px,#fac674 268.5px,#f9b765 326.5px,#fac472 379.5px,#fcd987 484.5px,#fde696 651.5px,#fdeb9b 764.5px)"></div>
<div style="top:136px;height:2px;width:765px;background:linear-gradient(90deg,#fde998 0.5px,#fcdb8a 155.5px,#fac573 267.5px,#f9b564 325.5px,#f9be6d 364.5px,#fbd483 456.5px,#fde494 611.5px,#fdeb9b 764.5px)"></div>
<div style="top:138px;height:2px;width:765px;background:linear-gradient(90deg,#fde998 0.5px,#fcdb8a 153.5px,#fac573 265.5px,#f9b463 324.5px,#f9bb6a 357.5px,#fbd180 442.5px,#fde392 588.5px,#fdeb9b 764.5px)"></div>
<div style="top:140px;height:2px;width:765px;background:linear-gradient(90deg,#fde998 0.5px,#fcdb8a 152.5px,#fac573 264.5px,#f9b463 322.5px,#f9b867 352.5px,#fbcf7d 431.5px,#fde190 570.5px,#fdea9b 764.5px)"></div>
<div style="top:142px;height:2px;width:765px;background:linear-gradient(90deg,#fde898 0.5px,#fcdb8a 151.5px,#fac573 264.5px,#f8b462 319.5px,#f9b765 350.5px,#fbcd7b 425.5px,#fde08f 560.5px,#fdea9a 764.5px)"></div>
<div style="top:144px;height:2px;width:765px;background:linear-gradient(90deg,#fde898 0.5px,#fcdb8a 149.5px,#fac472 263.5px,#f8b362 317.5px,#f9b463 332.5px,#f9b766 353.5px,#fbcd7b 426.5px,#fde08f 561.5px,#fdea9a 764.5px)"></div>
<div style="top:146px;height:2px;width:765px;background:linear-gradient(90deg,#fde898 0.5px,#fcdb89 148.5px,#fac472 263.5px,#f8b362 316.5px,#f9b967 328.5px,#f8b362 340.5px,#fbcd7b 427.5px,#fde08f 562.5px,#fdea9a 764.5px)"></div>
<div style="top:148px;height:2px;width:765px;background:linear-gradient(90deg,#fde898 0.5px,#fcdb89 147.5px,#fac372 263.5px,#f8b361 315.5px,#f9bb6a 327.5px,#f8b361 339.5px,#fbcd7b 431.5px,#fde08f 567.5px,#fdea9a 764.5px)"></div>
<div style="top:150px;height:2px;width:765px;background:linear-gradient(90deg,#fde898 0.5px,#fcdb89 145.5px,#fac371 263.5px,#f8b261 315.5px,#f9ba68 328.5px,#f8b261 339.5px,#fbcd7b 432.5px,#fde08f 568.5px,#fdea9a 764.5px)"></div>
<div style="top:152px;height:2px;width:765px;background:linear-gradient(90deg,#fde898 0.5px,#fcdb89 144.5px,#fac270 264.5px,#f8b261 316.5px,#f9b564 329.5px,#f8b261 343.5px,#facb79 424.5px,#fcdf8d 556.5px,#fdea9a 764.5px)"></div>
<div style="top:154px;height:2px;width:765px;background:linear-gradient(90deg,#fde898 0.5px,#fcda89 143.5px,#fac270 265.5px,#f8b160 318.5px,#f9b563 351.5px,#facb79 429.5px,#fcdf8e 563.5px,#fdea9a 764.5px)"></div>
<div style="top:156px;height:2px;width:765px;background:linear-gradient(90deg,#fde898 0.5px,#fcda89 141.5px,#f9c16f 265.5px,#f8b160 320.5px,#f9b463 351.5px,#facc7a 434.5px,#fddf8e 569.5px,#fdea9a 764.5px)"></div>
<div style="top:158px;height:2px;width:765px;background:linear-gradient(90deg,#fde898 0.5px,#fcda89 140.5px,#f9c06e 267.5px,#f8b05f 322.5px,#f9b664 354.5px,#fbce7c 445.5px,#fde08f 581.5px,#fdea9a 764.5px)"></div>
<div style="top:160px;height:2px;width:765px;background:linear-gradient(90deg,#fde898 0.5px,#fcda89 139.5px,#f9bf6d 269.5px,#f8b05f 324.5px,#f9b766 360.5px,#fbd17f 464.5px,#fde291 604.5px,#fdea9a 764.5px)"></div>
<div style="top:162px;height:2px;width:765px;background:linear-gradient(90deg,#fde898 0.5px,#fcda89 137.5px,#f9be6d 270.5px,#f8b05f 326.5px,#f9bc6b 376.5px,#fcd685 500.5px,#fde594 659.5px,#fdea9a 764.5px)"></div>
<div style="top:164px;height:2px;width:765px;background:linear-gradient(90deg,#fde898 0.5px,#fcda89 136.5px,#f9bd6b 273.5px,#f8b15f 327.5px,#fbd584 495.5px,#fde494 648.5px,#fdea99 764.5px)"></div>
<div style="top:166px;height:2px;width:765px;background:linear-gradient(90deg,#fde898 0.5px,#fcda89 135.5px,#f9bc6a 276.5px,#f8b160 328.5px,#fcd685 505.5px,#fde594 665.5px,#fde999 764.5px)"></div>
<div style="top:168px;height:2px;width:765px;background:linear-gradient(90deg,#fde898 0.5px,#fcda89 133.5px,#f9ba69 279.5px,#f8b160 329.5px,#fcd786 514.5px,#fde695 679.5px,#fde999 764.5px)"></div>
<div style="top:170px;height:2px;width:765px;background:linear-gradient(90deg,#fde898 0.5px,#fcda89 132.5px,#f9b867 285.5px,#f8b160 332.5px,#fcd886 519.5px,#fde695 688.5px,#fde999 764.5px)"></div>
<div style="top:172px;height:2px;width:765px;background:linear-gradient(90deg,#fde898 0.5px,#fcda88 131.5px,#f8b160 324.5px,#f9bb69 380.5px,#fcd887 524.5px,#fde696 696.5px,#fde999 764.5px)"></div>
<div style="top:174px;height:2px;width:765px;background:linear-gradient(90deg,#fde897 0.5px,#fcda88 129.5px,#f8b160 322.5px,#f9b967 375.5px,#fcd886 523.5px,#fde695 693.5px,#fde999 764.5px)"></div>
<div style="top:176px;height:2px;width:765px;background:linear-gradient(90deg,#fde897 0.5px,#fcda88 128.5px,#f8b160 321.5px,#f9b867 374.5px,#fcd886 525.5px,#fde695 696.5px,#fde999 764.5px)"></div>
<div style="top:178px;height:2px;width:765px;background:linear-gradient(90deg,#fde897 0.5px,#fcda88 127.5px,#f8b15f 319.5px,#f9b765 371.5px,#fcd786 526.5px,#fde695 697.5px,#fde999 764.5px)"></div>
<div style="top:180px;height:2px;width:765px;background:linear-gradient(90deg,#fde897 0.5px,#fcda88 125.5px,#f8b05f 318.5px,#f9b664 370.5px,#fcd786 528.5px,#fde695 700.5px,#fde999 764.5px)"></div>
<div style="top:182px;height:2px;width:765px;background:linear-gradient(90deg,#fde897 0.5px,#fcda88 124.5px,#f8b05f 316.5px,#f9b463 367.5px,#fcd786 529.5px,#fde695 701.5px,#fde999 764.5px)"></div>
<div style="top:184px;height:2px;width:765px;background:linear-gradient(90deg,#fde897 0.5px,#fcd988 123.5px,#f8af5e 315.5px,#f8b362 366.5px,#fcd785 530.5px,#fde695 702.5px,#fde999 764.5px)"></div>
<div style="top:186px;height:2px;width:765px;background:linear-gradient(90deg,#fde897 0.5px,#fcd988 122.5px,#f8ae5d 314.5px,#f8b261 365.5px,#fcd685 530.5px,#fde695 701.5px,#fde998 764.5px)"></div>
<div style="top:188px;height:2px;width:765px;background:linear-gradient(90deg,#fde897 0.5px,#fcd988 120.5px,#f8ad5c 313.5px,#f8b160 364.5px,#fcd685 530.5px,#fde695 700.5px,#fde998 764.5px)"></div>
<div style="top:190px;height:2px;width:765px;background:linear-gradient(90deg,#fde797 0.5px,#fcd988 119.5px,#f8ad5c 312.5px,#f8b05f 364.5px,#fbd684 530.5px,#fde595 699.5px,#fde898 764.5px)"></div>
<div style="top:192px;height:2px;width:765px;background:linear-gradient(90deg,#fde797 0.5px,#fcd988 118.5px,#f8ac5b 311.5px,#f8af5e 364.5px,#fbd584 530.5px,#fde594 698.5px,#fde898 764.5px)"></div>
<div style="top:194px;height:2px;width:765px;background:linear-gradient(90deg,#fde797 0.5px,#fcd988 117.5px,#f8ab5a 309.5px,#f8ad5c 363.5px,#fbd583 530.5px,#fde594 696.5px,#fde898 764.5px)"></div>
<div style="top:196px;height:2px;width:765px;background:linear-gradient(90deg,#fde797 0.5px,#fcd988 116.5px,#f8aa59 307.5px,#f8ac5b 360.5px,#fbd583 531.5px,#fde594 697.5px,#fde898 764.5px)"></div>
<div style="top:198px;height:2px;width:765px;background:linear-gradient(90deg,#fde797 0.5px,#fcd988 115.5px,#f8a958 306.5px,#f8ab5a 359.5px,#fbd483 532.5px,#fde594 698.5px,#fde898 764.5px)"></div>
<div style="top:200px;height:2px;width:765px;background:linear-gradient(90deg,#fde797 0.5px,#fcd987 114.5px,#f8a957 304.5px,#f8a958 356.5px,#fbd483 534.5px,#fde594 702.5px,#fde898 764.5px)"></div>
<div style="top:202px;height:2px;width:765px;background:linear-gradient(90deg,#fde797 0.5px,#fcd987 113.5px,#f8b160 260.5px,#f8a655 321.5px,#f8ac5b 378.5px,#fbd281 524.5px,#fde392 674.5px,#fde898 764.5px)"></div>
<div style="top:204px;height:2px;width:765px;background:linear-gradient(90deg,#fde797 0.5px,#fcd987 112.5px,#f8b261 252.5px,#f8a554 316.5px,#f8aa59 370.5px,#fbd281 527.5px,#fde392 681.5px,#fde898 764.5px)"></div>
<div style="top:206px;height:2px;width:765px;background:linear-gradient(90deg,#fde797 0.5px,#fcd987 111.5px,#f8b362 246.5px,#f8a453 313.5px,#f8a857 366.5px,#fbd281 529.5px,#fde392 685.5px,#fde898 764.5px)"></div>
<div style="top:208px;height:2px;width:765px;background:linear-gradient(90deg,#fde797 0.5px,#fcd987 110.5px,#f9b463 240.5px,#f8a452 309.5px,#f8a655 361.5px,#fbd281 531.5px,#fde493 690.5px,#fde897 764.5px)"></div>
<div style="top:210px;height:2px;width:765px;background:linear-gradient(90deg,#fde797 0.5px,#fcd887 109.5px,#f9b564 235.5px,#f8a352 307.5px,#f8a453 358.5px,#f9be6d 452.5px,#fbd684 554.5px,#fde796 741.5px,#fde897 764.5px)"></div>
<div style="top:212px;height:2px;width:765px;background:linear-gradient(90deg,#fde797 0.5px,#fcd887 108.5px,#f9b664 230.5px,#f8a251 304.5px,#f8a351 355.5px,#f9b968 438.5px,#fbd382 542.5px,#fde594 717.5px,#fde897 764.5px)"></div>
<div style="top:214px;height:2px;width:765px;background:linear-gradient(90deg,#fde797 0.5px,#fcd887 107.5px,#f9b665 226.5px,#f8a250 302.5px,#f8a250 353.5px,#f9b766 434.5px,#fbd280 538.5px,#fde493 706.5px,#fde897 764.5px)"></div>
<div style="top:216px;height:2px;width:765px;background:linear-gradient(90deg,#fde797 0.5px,#fcd887 107.5px,#f9b665 224.5px,#f7a14f 301.5px,#f7a04f 352.5px,#f9b664 432.5px,#fbd17f 534.5px,#fde392 695.5px,#fde797 764.5px)"></div>
<div style="top:218px;height:2px;width:765px;background:linear-gradient(90deg,#fde796 0.5px,#fcd887 106.5px,#f9b665 220.5px,#f7a04f 299.5px,#f79f4e 350.5px,#f8b362 428.5px,#fbd07e 530.5px,#fde291 683.5px,#fde797 764.5px)"></div>
<div style="top:220px;height:2px;width:765px;background:linear-gradient(90deg,#fde796 0.5px,#fcd887 105.5px,#f9b766 216.5px,#f7a04e 296.5px,#f79e4c 347.5px,#f8b05f 422.5px,#fbce7d 525.5px,#fde190 669.5px,#fde797 764.5px)"></div>
<div style="top:222px;height:2px;width:765px;background:linear-gradient(90deg,#fde796 0.5px,#fcd887 104.5px,#f9b766 213.5px,#f79f4e 294.5px,#f79d4b 346.5px,#f8af5e 420.5px,#fbcd7b 522.5px,#fde08f 661.5px,#fde797 764.5px)"></div>
<div style="top:224px;height:2px;width:765px;background:linear-gradient(90deg,#fde796 0.5px,#fcd886 104.5px,#f9b766 211.5px,#f79e4d 293.5px,#f79c4a 345.5px,#f8ad5c 417.5px,#facc7a 520.5px,#fcdf8e 656.5px,#fde797 764.5px)"></div>
<div style="top:226px;height:2px;width:765px;background:linear-gradient(90deg,#fde796 0.5px,#fcd886 103.5px,#f9b866 208.5px,#f79e4c 291.5px,#f79b49 343.5px,#f8aa59 411.5px,#facc7a 520.5px,#fcdf8e 656.5px,#fde797 764.5px)"></div>
<div style="top:228px;height:2px;width:765px;background:linear-gradient(90deg,#fde796 0.5px,#fcd886 102.5px,#f9b867 205.5px,#f79e4c 289.5px,#f79a48 342.5px,#f8a857 408.5px,#facb79 520.5px,#fcdf8e 656.5px,#fde797 764.5px)"></div>
<div style="top:230px;height:2px;width:765px;background:linear-gradient(90deg,#fde796 0.5px,#fcd886 102.5px,#f9b866 204.5px,#f79d4c 287.5px,#f79947 341.5px,#f8a755 405.5px,#facb79 520.5px,#fcdf8e 657.5px,#fde796 764.5px)"></div>
<div style="top:232px;height:2px;width:765px;background:linear-gradient(90deg,#fde796 0.5px,#fcd886 101.5px,#f9b867 201.5px,#f79d4b 285.5px,#f79847 339.5px,#f8a553 401.5px,#faca78 519.5px,#fcde8d 655.5px,#fde796 764.5px)"></div>
<div style="top:234px;height:2px;width:765px;background:linear-gradient(90deg,#fde796 0.5px,#fcd886 101.5px,#f9b867 200.5px,#f79c4b 284.5px,#f79846 339.5px,#f8a452 401.5px,#faca78 519.5px,#fcde8d 657.5px,#fde796 764.5px)"></div>
<div style="top:236px;height:2px;width:765px;background:linear-gradient(90deg,#fde796 0.5px,#fcd886 100.5px,#f9b867 198.5px,#f79c4a 282.5px,#f79846 331.5px,#f79e4c 382.5px,#faca78 522.5px,#fcdf8e 665.5px,#fde796 764.5px)"></div>
<div style="top:238px;height:2px;width:765px;background:linear-gradient(90deg,#fde796 0.5px,#fcd786 100.5px,#f9b867 197.5px,#f79c4a 280.5px,#f79947 312.5px,#f79a48 366.5px,#f8b261 447.5px,#facb79 529.5px,#fde08f 682.5px,#fde796 764.5px)"></div>
<div style="top:240px;height:2px;width:765px;background:linear-gradient(90deg,#fde796 0.5px,#fcd886 99.5px,#f9b867 195.5px,#f79c4a 278.5px,#f79948 304.5px,#f79948 350.5px,#f79b49 374.5px,#f9b766 463.5px,#fbcd7c 545.5px,#fde392 710.5px,#fde796 764.5px)"></div>
<div style="top:242px;height:2px;width:765px;background:linear-gradient(90deg,#fde796 0.5px,#fcd786 99.5px,#f9b867 194.5px,#f79b4a 277.5px,#f79a48 298.5px,#f79c4a 344.5px,#f79947 370.5px,#f8b261 451.5px,#faca78 530.5px,#fde08f 684.5px,#fde796 764.5px)"></div>
<div style="top:244px;height:2px;width:765px;background:linear-gradient(90deg,#fde796 0.5px,#fcd786 99.5px,#f9b867 193.5px,#f79b49 276.5px,#f79a48 293.5px,#f79f4e 335.5px,#f79947 373.5px,#f8b362 455.5px,#faca78 533.5px,#fde190 689.5px,#fde696 764.5px)"></div>
<div style="top:246px;height:2px;width:765px;background:linear-gradient(90deg,#fde796 0.5px,#fcd786 98.5px,#f9b967 191.5px,#f79b49 274.5px,#f79b49 290.5px,#f8a251 330.5px,#f79947 376.5px,#f8b462 459.5px,#faca78 536.5px,#fde190 693.5px,#fde696 764.5px)"></div>
<div style="top:248px;height:2px;width:765px;background:linear-gradient(90deg,#fde796 0.5px,#fcd786 98.5px,#f9b967 190.5px,#f79b49 273.5px,#f79b4a 287.5px,#f8a453 324.5px,#f79f4e 354.5px,#f79948 379.5px,#f9b564 464.5px,#facb79 541.5px,#fde190 698.5px,#fde696 764.5px)"></div>
<div style="top:250px;height:2px;width:765px;background:linear-gradient(90deg,#fde796 0.5px,#fcd786 97.5px,#f9b968 188.5px,#f79b49 271.5px,#f79c4a 284.5px,#f8a553 317.5px,#f8a250 354.5px,#f79947 381.5px,#f9b664 467.5px,#facb79 545.5px,#fde190 701.5px,#fde696 764.5px)"></div>
<div style="top:252px;height:2px;width:765px;background:linear-gradient(90deg,#fde796 0.5px,#fcd786 97.5px,#f9b967 188.5px,#f79b49 270.5px,#f79c4b 283.5px,#f8a553 309.5px,#f79e4c 330.5px,#f8a453 351.5px,#f79947 383.5px,#f9b665 471.5px,#facb7a 551.5px,#fde291 705.5px,#fde696 764.5px)"></div>
<div style="top:254px;height:2px;width:765px;background:linear-gradient(90deg,#fde796 0.5px,#fcd786 97.5px,#f9b967 187.5px,#f79b49 269.5px,#f79f4d 287.5px,#f8a554 303.5px,#f79644 322.5px,#f79745 336.5px,#f8a553 354.5px,#f79947 385.5px,#f9b867 477.5px,#fbce7c 566.5px,#fde392 717.5px,#fde696 764.5px)"></div>
<div style="top:256px;height:2px;width:765px;background:linear-gradient(90deg,#fde796 0.5px,#fcd785 97.5px,#f9b867 187.5px,#f79a49 268.5px,#f8a453 300.5px,#f79947 310.5px,#f69345 315.5px,#f58e47 330.5px,#f79645 344.5px,#f8a251 353.5px,#f8a452 361.5px,#f79947 387.5px,#fac472 519.5px,#fcde8d 676.5px,#fde695 764.5px)"></div>
<div style="top:258px;height:2px;width:765px;background:linear-gradient(90deg,#fde796 0.5px,#fcd786 96.5px,#f9b968 185.5px,#f79a49 267.5px,#f8a554 296.5px,#f79947 305.5px,#f69445 308.5px,#f3854b 325.5px,#f4894a 337.5px,#f79644 349.5px,#f8a250 356.5px,#f8a453 363.5px,#f79947 388.5px,#fac371 519.5px,#fcde8d 676.5px,#fde695 764.5px)"></div>
<div style="top:260px;height:2px;width:765px;background:linear-gradient(90deg,#fde796 0.5px,#fcd786 96.5px,#f9b967 185.5px,#f79a48 267.5px,#f8a654 293.5px,#f79a48 301.5px,#f69445 304.5px,#ee7a52 323.5px,#ee7a52 333.5px,#f79745 353.5px,#f7a14f 358.5px,#f8a553 364.5px,#f79947 390.5px,#fac270 518.5px,#fcde8d 676.5px,#fde695 764.5px)"></div>
<div style="top:262px;height:2px;width:765px;background:linear-gradient(90deg,#fde796 0.5px,#fcd786 96.5px,#f9b968 184.5px,#f79a48 266.5px,#f8a554 291.5px,#f79b49 298.5px,#f79544 300.5px,#ef7c50 313.5px,#e56c5c 324.5px,#e66d5a 333.5px,#f2834c 345.5px,#f79745 356.5px,#f7a150 361.5px,#f8a453 367.5px,#f79947 391.5px,#fac170 517.5px,#fcde8d 675.5px,#fde695 764.5px)"></div>
<div style="top:264px;height:2px;width:765px;background:linear-gradient(90deg,#fde796 0.5px,#fcd785 96.5px,#f9b967 184.5px,#f79a48 265.5px,#f8a654 289.5px,#f79a48 296.5px,#f79545 298.5px,#ef7c51 309.5px,#e16560 319.5px,#dd5f64 329.5px,#e3685e 338.5px,#f3864b 350.5px,#f79644 358.5px,#f7a04e 362.5px,#f8a453 368.5px,#f79947 392.5px,#f9c06f 516.5px,#fcdd8c 674.5px,#fde695 764.5px)"></div>
<div style="top:266px;height:2px;width:765px;background:linear-gradient(90deg,#fde796 0.5px,#fcd785 96.5px,#f9b967 184.5px,#f79a48 264.5px,#f8a554 288.5px,#f79b49 294.5px,#f79545 296.5px,#ef7c50 306.5px,#df6262 315.5px,#d5546c 325.5px,#d7576a 333.5px,#e4695d 343.5px,#f3854b 352.5px,#f79644 360.5px,#f7a04f 364.5px,#f8a553 369.5px,#f79847 393.5px,#f9c06e 515.5px,#fcdd8c 673.5px,#fde695 764.5px)"></div>
<div style="top:268px;height:2px;width:765px;background:linear-gradient(90deg,#fde796 0.5px,#fcd786 95.5px,#f9b968 182.5px,#f79a48 263.5px,#f8a554 287.5px,#f79947 293.5px,#f79644 294.5px,#f17f4e 303.5px,#de6163 312.5px,#c94478 325.5px,#ca4577 331.5px,#e4695d 346.5px,#f3854b 354.5px,#f79544 361.5px,#f7a04e 365.5px,#f8a553 370.5px,#f79847 394.5px,#f9be6d 513.5px,#fcdd8c 672.5px,#fde695 764.5px)"></div>
<div style="top:270px;height:2px;width:765px;background:linear-gradient(90deg,#fde796 0.5px,#fcd786 95.5px,#f9b968 182.5px,#f79a48 263.5px,#f8a554 286.5px,#f79d4b 291.5px,#f79544 293.5px,#f2814d 301.5px,#dd6064 310.5px,#ca4577 318.5px,#b6318a 325.5px,#b6318a 330.5px,#ca4577 337.5px,#dd6064 345.5px,#f3844c 355.5px,#f79544 362.5px,#f7a150 367.5px,#f8a453 372.5px,#f79846 394.5px,#f9be6c 512.5px,#fcdd8b 671.5px,#fde695 764.5px)"></div>
<div style="top:272px;height:2px;width:765px;background:linear-gradient(90deg,#fde796 0.5px,#fcd786 95.5px,#f9b968 182.5px,#f79a48 262.5px,#f8a654 285.5px,#f79a48 291.5px,#f79644 292.5px,#f2804d 300.5px,#dc5e65 309.5px,#ce4c73 314.5px,#a5209a 323.5px,#9d1a9e 327.5px,#a21e9b 331.5px,#ae2992 334.5px,#cf4c72 341.5px,#ef7c50 354.5px,#f69345 362.5px,#f79947 364.5px,#f8a453 370.5px,#f79846 395.5px,#f9bd6b 511.5px,#fcdc8b 670.5px,#fde695 764.5px)"></div>
<div style="top:274px;height:2px;width:765px;background:linear-gradient(90deg,#fde796 0.5px,#fcd786 95.5px,#f9b968 182.5px,#f79a48 262.5px,#f8a655 284.5px,#f79c4a 290.5px,#f79545 292.5px,#f07e4f 300.5px,#dc5e65 308.5px,#cd4a74 313.5px,#aa2595 319.5px,#9817a0 322.5px,#7e07a8 326.5px,#7b06a8 328.5px,#840ba6 330.5px,#a41f9a 335.5px,#c94478 341.5px,#d7576a 345.5px,#ed7952 354.5px,#f48b49 359.5px,#f79644 364.5px,#f7a14f 368.5px,#f8a453 373.5px,#f79846 394.5px,#f9bb6a 509.5px,#fcdc8b 669.5px,#fde695 764.5px)"></div>
<div style="top:276px;height:2px;width:765px;background:linear-gradient(90deg,#fde796 0.5px,#fcd786 95.5px,#f9b968 182.5px,#f79a48 262.5px,#f8a655 284.5px,#f79b49 290.5px,#f79644 291.5px,#f2804d 299.5px,#d85969 309.5px,#ca4677 313.5px,#aa2595 318.5px,#9414a2 321.5px,#7c06a8 323.5px,#4f02a1 326.5px,#45029e 327.5px,#45029e 328.5px,#5d03a5 330.5px,#7c06a8 332.5px,#9414a2 334.5px,#aa2595 337.5px,#ca4677 342.5px,#d85969 346.5px,#f3844c 357.5px,#f79644 364.5px,#f7a04f 368.5px,#f8a453 373.5px,#f79846 395.5px,#f9ba69 507.5px,#fcdc8b 668.5px,#fde695 764.5px)"></div>
<div style="top:278px;height:2px;width:765px;background:linear-gradient(90deg,#fde796 0.5px,#fcd786 95.5px,#f9b968 182.5px,#f79a48 262.5px,#f8a655 284.5px,#f79b49 290.5px,#f79644 291.5px,#f2804d 299.5px,#d85969 309.5px,#ca4677 313.5px,#aa2595 318.5px,#9514a2 321.5px,#7d07a8 323.5px,#5102a2 326.5px,#49029f 327.5px,#4902a0 328.5px,#5e03a5 330.5px,#7d07a8 332.5px,#9515a2 334.5px,#aa2595 337.5px,#ca4677 342.5px,#d85969 346.5px,#f3844c 357.5px,#f79644 364.5px,#f7a04f 368.5px,#f8a453 373.5px,#f79846 394.5px,#f9b968 506.5px,#fcdc8a 667.5px,#fde695 764.5px)"></div>
<div style="top:280px;height:2px;width:765px;background:linear-gradient(90deg,#fde796 0.5px,#fcd786 95.5px,#f9b968 182.5px,#f79a49 262.5px,#f8a655 284.5px,#f79c4a 290.5px,#f79545 292.5px,#f07e4f 300.5px,#da5b67 309.5px,#cd4a74 313.5px,#ab2694 319.5px,#9f1c9d 321.5px,#8109a7 326.5px,#7e07a8 328.5px,#8d10a4 331.5px,#a5209a 335.5px,#c94478 341.5px,#d7576a 345.5px,#ed7952 354.5px,#f48b49 359.5px,#f79745 364.5px,#f7a14f 368.5px,#f8a452 373.5px,#f79746 394.5px,#f9b867 504.5px,#fcdb8a 667.5px,#fde695 764.5px)"></div>
<div style="top:282px;height:2px;width:765px;background:linear-gradient(90deg,#fde796 0.5px,#fcd786 95.5px,#f9b968 182.5px,#f79a49 262.5px,#f8a654 285.5px,#f79a48 291.5px,#f79644 292.5px,#f2814d 300.5px,#dc5f65 309.5px,#cf4c72 314.5px,#a62199 323.5px,#9e1b9d 327.5px,#a31f9b 331.5px,#be3983 337.5px,#d2516f 342.5px,#eb7555 352.5px,#f3874b 357.5px,#f79544 363.5px,#f7a04e 367.5px,#f8a453 372.5px,#f79746 394.5px,#f9b766 502.5px,#facb79 587.5px,#fcdf8d 691.5px,#fde695 764.5px)"></div>
<div style="top:284px;height:2px;width:765px;background:linear-gradient(90deg,#fde796 0.5px,#fcd786 95.5px,#f9b968 182.5px,#f79a48 263.5px,#f8a554 286.5px,#f79d4c 291.5px,#f79644 293.5px,#f2814d 301.5px,#dc5e65 311.5px,#c43f7d 320.5px,#b6318a 326.5px,#b93487 331.5px,#cd4a74 338.5px,#eb7655 351.5px,#f3874a 356.5px,#f79544 362.5px,#f7a04e 366.5px,#f8a453 371.5px,#f79846 394.5px,#f9b665 500.5px,#fac573 568.5px,#fcdb8a 665.5px,#fde695 764.5px)"></div>
<div style="top:286px;height:2px;width:765px;background:linear-gradient(90deg,#fde796 0.5px,#fcd786 95.5px,#f9b968 182.5px,#f79a49 263.5px,#f8a554 287.5px,#f79a48 293.5px,#f79644 294.5px,#f1804e 303.5px,#de6263 312.5px,#ca4577 325.5px,#cb4676 331.5px,#e46a5d 346.5px,#f3854b 354.5px,#f79544 361.5px,#f7a04e 365.5px,#f8a453 370.5px,#f79846 394.5px,#f9b564 498.5px,#f9c16f 557.5px,#fcd987 652.5px,#fde695 764.5px)"></div>
<div style="top:288px;height:2px;width:765px;background:linear-gradient(90deg,#fde796 0.5px,#fcd786 95.5px,#f9b968 183.5px,#f79b49 263.5px,#f8a654 288.5px,#f79c4a 294.5px,#f79544 296.5px,#ef7d50 306.5px,#df6362 315.5px,#d5556c 325.5px,#d7586a 333.5px,#e46a5d 343.5px,#f3854b 352.5px,#f79745 360.5px,#f7a04f 364.5px,#f8a453 369.5px,#f79846 393.5px,#f9b463 496.5px,#f9be6d 550.5px,#fcd786 643.5px,#fde695 764.5px)"></div>
<div style="top:290px;height:2px;width:765px;background:linear-gradient(90deg,#fde796 0.5px,#fcd786 95.5px,#f9b968 183.5px,#f79b49 264.5px,#f8a655 289.5px,#f79b49 296.5px,#f79544 298.5px,#ef7d50 309.5px,#e16660 319.5px,#dd6064 329.5px,#e3695e 338.5px,#f3874b 350.5px,#f79644 358.5px,#f7a04e 362.5px,#f8a453 368.5px,#f79846 392.5px,#f8b462 494.5px,#f9bc6a 545.5px,#fbd684 636.5px,#fde595 764.5px)"></div>
<div style="top:292px;height:2px;width:765px;background:linear-gradient(90deg,#fde796 0.5px,#fcd786 95.5px,#f9ba68 183.5px,#f79b49 264.5px,#f8a453 285.5px,#f8a554 292.5px,#f79c4a 298.5px,#f79644 300.5px,#ee7b51 314.5px,#e66d5b 324.5px,#e76e5a 333.5px,#f3854b 346.5px,#f79544 355.5px,#f7a150 361.5px,#f8a453 366.5px,#f79846 391.5px,#f8b362 493.5px,#f9b968 541.5px,#fbd483 631.5px,#fde594 759.5px,#fde595 764.5px)"></div>
<div style="top:294px;height:2px;width:765px;background:linear-gradient(90deg,#fde796 0.5px,#fcd886 95.5px,#f9b968 184.5px,#f79b4a 264.5px,#f79f4e 280.5px,#f8a655 293.5px,#f79b4a 301.5px,#f79644 303.5px,#ee7b51 323.5px,#ef7b51 333.5px,#f79544 352.5px,#f7a14f 358.5px,#f8a453 364.5px,#f79846 390.5px,#f8b261 491.5px,#f9b866 539.5px,#fbd382 626.5px,#fde493 749.5px,#fde595 764.5px)"></div>
<div style="top:296px;height:2px;width:765px;background:linear-gradient(90deg,#fde796 0.5px,#fcd786 96.5px,#f9b968 185.5px,#f79b4a 265.5px,#f79f4d 280.5px,#f8a655 296.5px,#f79a49 305.5px,#f79545 308.5px,#f3864b 325.5px,#f48a49 337.5px,#f79745 349.5px,#f8a251 356.5px,#f8a453 363.5px,#f79846 388.5px,#f8b261 490.5px,#f9b665 537.5px,#fbd280 621.5px,#fde392 738.5px,#fde595 764.5px)"></div>
<div style="top:298px;height:2px;width:765px;background:linear-gradient(90deg,#fde796 0.5px,#fcd786 96.5px,#f9b968 186.5px,#f79c4a 266.5px,#f79d4b 277.5px,#f8a655 299.5px,#f79a49 310.5px,#f79544 313.5px,#f58f47 329.5px,#f79644 343.5px,#f8a251 352.5px,#f8a553 359.5px,#f79846 387.5px,#f8b260 488.5px,#f9b564 536.5px,#fbd180 618.5px,#fde392 731.5px,#fde595 764.5px)"></div>
<div style="top:300px;height:2px;width:765px;background:linear-gradient(90deg,#fde796 0.5px,#fcd886 96.5px,#f9b968 186.5px,#f79c4a 266.5px,#f79c4b 278.5px,#f8a654 304.5px,#f79644 325.5px,#f79947 336.5px,#f8a554 354.5px,#f79846 385.5px,#f8b160 487.5px,#f9b463 536.5px,#fbd17f 616.5px,#fde291 726.5px,#fde595 764.5px)"></div>
<div style="top:302px;height:2px;width:765px;background:linear-gradient(90deg,#fde796 0.5px,#fcd886 96.5px,#f9b968 187.5px,#f79c4b 267.5px,#f79c4b 280.5px,#f8a655 309.5px,#f7a04e 330.5px,#f8a554 351.5px,#f79846 383.5px,#f8b160 486.5px,#f9b463 536.5px,#fbd07f 615.5px,#fde291 723.5px,#fde595 764.5px)"></div>
<div style="top:304px;height:2px;width:765px;background:linear-gradient(90deg,#fde796 0.5px,#fcd886 96.5px,#f9ba68 187.5px,#f79d4b 267.5px,#f79c4a 282.5px,#f8a655 316.5px,#f8a351 353.5px,#f79947 381.5px,#f8b160 486.5px,#f8b361 519.5px,#f9b866 548.5px,#fbd07e 613.5px,#fde190 719.5px,#fde595 764.5px)"></div>
<div style="top:306px;height:2px;width:765px;background:linear-gradient(90deg,#fde797 0.5px,#fcd886 97.5px,#f9b968 189.5px,#f79d4b 268.5px,#f79c4a 285.5px,#f8a654 323.5px,#f7a14f 353.5px,#f79947 378.5px,#f8b160 485.5px,#f8b261 516.5px,#f9b866 526.5px,#f9b463 539.5px,#fbcf7e 612.5px,#fde190 716.5px,#fde595 764.5px)"></div>
<div style="top:308px;height:2px;width:765px;background:linear-gradient(90deg,#fde797 0.5px,#fcd887 97.5px,#f9b968 190.5px,#f79d4c 269.5px,#f79c4a 288.5px,#f8a453 329.5px,#f79947 376.5px,#f8b261 485.5px,#f8b261 515.5px,#f9bb6a 525.5px,#f8b462 536.5px,#fbd17f 617.5px,#fde291 726.5px,#fde595 764.5px)"></div>
<div style="top:310px;height:2px;width:765px;background:linear-gradient(90deg,#fde797 0.5px,#fcd887 97.5px,#f9b968 191.5px,#f79e4c 270.5px,#f79c4a 292.5px,#f7a150 333.5px,#f79948 373.5px,#f8b261 484.5px,#f8b261 515.5px,#f9bb69 525.5px,#f9b463 536.5px,#fbd17f 617.5px,#fde291 726.5px,#fde595 764.5px)"></div>
<div style="top:312px;height:2px;width:765px;background:linear-gradient(90deg,#fde797 0.5px,#fcd887 97.5px,#f9ba68 192.5px,#f79e4d 270.5px,#f79c4a 297.5px,#f79e4d 339.5px,#f79a48 370.5px,#f8ae5d 457.5px,#f8b261 495.5px,#f8b362 517.5px,#f9b766 526.5px,#f9b463 539.5px,#fbd07e 612.5px,#fde190 717.5px,#fde595 764.5px)"></div>
<div style="top:314px;height:2px;width:765px;background:linear-gradient(90deg,#fde797 0.5px,#fcd887 98.5px,#f9b968 194.5px,#f79f4d 271.5px,#f79b4a 303.5px,#f79c4a 345.5px,#f79a49 369.5px,#f8b362 484.5px,#f8b362 519.5px,#f9b867 548.5px,#fbd07e 614.5px,#fde291 721.5px,#fde595 764.5px)"></div>
<div style="top:316px;height:2px;width:765px;background:linear-gradient(90deg,#fde797 0.5px,#fcd887 98.5px,#f9b968 195.5px,#f7a04e 272.5px,#f79b4a 312.5px,#f79c4a 371.5px,#f8b462 483.5px,#f8b462 532.5px,#fbd281 622.5px,#fde392 738.5px,#fde595 764.5px)"></div>
<div style="top:318px;height:2px;width:765px;background:linear-gradient(90deg,#fde797 0.5px,#fcd987 98.5px,#f9ba68 196.5px,#f7a04f 273.5px,#f79a49 331.5px,#f7a04e 393.5px,#f9b463 482.5px,#f9b463 533.5px,#fbd280 620.5px,#fde392 735.5px,#fde595 764.5px)"></div>
<div style="top:320px;height:2px;width:765px;background:linear-gradient(90deg,#fde797 0.5px,#fcd987 99.5px,#f9b968 199.5px,#f7a04f 275.5px,#f79b49 339.5px,#f8a453 408.5px,#f9b564 482.5px,#f9b564 533.5px,#fbd381 623.5px,#fde493 743.5px,#fde595 764.5px)"></div>
<div style="top:322px;height:2px;width:765px;background:linear-gradient(90deg,#fde797 0.5px,#fcd987 99.5px,#f9b968 200.5px,#f7a150 275.5px,#f79c4a 338.5px,#f8a554 408.5px,#f9b664 482.5px,#f9b665 534.5px,#fbd382 626.5px,#fde494 749.5px,#fde695 764.5px)"></div>
<div style="top:324px;height:2px;width:765px;background:linear-gradient(90deg,#fde797 0.5px,#fcd987 100.5px,#f9b967 203.5px,#f8a250 277.5px,#f79d4b 341.5px,#f8a756 412.5px,#f9b665 483.5px,#f9b866 535.5px,#fbd483 630.5px,#fde594 758.5px,#fde695 764.5px)"></div>
<div style="top:326px;height:2px;width:765px;background:linear-gradient(90deg,#fde897 0.5px,#fcd988 100.5px,#f9b967 205.5px,#f8a351 278.5px,#f79e4c 342.5px,#f8a958 415.5px,#f9b766 483.5px,#f9b968 536.5px,#fbd684 635.5px,#fde695 764.5px)"></div>
<div style="top:328px;height:2px;width:765px;background:linear-gradient(90deg,#fde897 0.5px,#fcd988 101.5px,#f9b967 208.5px,#f8a352 280.5px,#f79f4d 344.5px,#f8ab5a 419.5px,#f9b867 485.5px,#f9bb6a 538.5px,#fcd785 640.5px,#fde695 764.5px)"></div>
<div style="top:330px;height:2px;width:765px;background:linear-gradient(90deg,#fde897 0.5px,#fcd988 101.5px,#f9b967 210.5px,#f8a452 282.5px,#f7a04e 346.5px,#f8ad5c 424.5px,#f9b968 486.5px,#f9bd6b 540.5px,#fcd886 646.5px,#fde695 764.5px)"></div>
<div style="top:332px;height:2px;width:765px;background:linear-gradient(90deg,#fde897 0.5px,#fcd988 102.5px,#f9b867 214.5px,#f8a553 284.5px,#f7a150 348.5px,#f8af5e 429.5px,#f9ba69 489.5px,#f9bf6d 543.5px,#fcd988 651.5px,#fde695 764.5px)"></div>
<div style="top:334px;height:2px;width:765px;background:linear-gradient(90deg,#fde897 0.5px,#fcda88 102.5px,#f9b866 217.5px,#f8a554 286.5px,#f8a251 350.5px,#f8b160 431.5px,#f9bb6a 492.5px,#f9c16f 547.5px,#fcda89 657.5px,#fde695 764.5px)"></div>
<div style="top:336px;height:2px;width:765px;background:linear-gradient(90deg,#fde898 0.5px,#fcda88 103.5px,#f9b765 223.5px,#f8a654 291.5px,#f8a453 356.5px,#f9b564 442.5px,#f9bd6b 502.5px,#fac472 557.5px,#fcdc8a 666.5px,#fde695 764.5px)"></div>
<div style="top:338px;height:2px;width:765px;background:linear-gradient(90deg,#fde898 0.5px,#fcda89 103.5px,#f9b665 227.5px,#f8a655 294.5px,#f8a554 359.5px,#f9bd6c 490.5px,#fac473 554.5px,#fcdc8b 670.5px,#fde695 764.5px)"></div>
<div style="top:340px;height:2px;width:765px;background:linear-gradient(90deg,#fde898 0.5px,#fcda89 104.5px,#f9b463 237.5px,#f8a655 304.5px,#f8a857 371.5px,#f9be6d 489.5px,#fac674 557.5px,#fcdd8c 677.5px,#fde695 764.5px)"></div>
<div style="top:342px;height:2px;width:765px;background:linear-gradient(90deg,#fde898 0.5px,#fcda89 104.5px,#f8aa58 287.5px,#f8a756 353.5px,#f9b665 433.5px,#f9c06e 502.5px,#faca78 571.5px,#fcdf8e 690.5px,#fde695 764.5px)"></div>
<div style="top:344px;height:2px;width:765px;background:linear-gradient(90deg,#fde898 0.5px,#fcda89 105.5px,#f8ab59 288.5px,#f8a957 354.5px,#f9b867 438.5px,#fac270 512.5px,#fbcf7d 592.5px,#fde291 720.5px,#fde695 764.5px)"></div>
<div style="top:346px;height:2px;width:765px;background:linear-gradient(90deg,#fde898 0.5px,#fcdb89 106.5px,#f8ac5b 289.5px,#f8aa59 356.5px,#fac270 495.5px,#facc7a 573.5px,#fde190 702.5px,#fde695 764.5px)"></div>
<div style="top:348px;height:2px;width:765px;background:linear-gradient(90deg,#fde898 0.5px,#fcdb89 107.5px,#f8ad5c 290.5px,#f8ab5a 358.5px,#fac371 495.5px,#fbcd7b 576.5px,#fde291 711.5px,#fde695 764.5px)"></div>
<div style="top:350px;height:2px;width:765px;background:linear-gradient(90deg,#fde898 0.5px,#fcdb8a 107.5px,#f8ae5d 290.5px,#f8ad5c 358.5px,#fac472 496.5px,#fbce7d 580.5px,#fde392 721.5px,#fde695 764.5px)"></div>
<div style="top:352px;height:2px;width:765px;background:linear-gradient(90deg,#fde998 0.5px,#fcdb8a 108.5px,#f8af5e 290.5px,#f8ae5d 357.5px,#fac573 498.5px,#fbd07f 588.5px,#fde493 735.5px,#fde695 764.5px)"></div>
<div style="top:354px;height:2px;width:765px;background:linear-gradient(90deg,#fde998 0.5px,#fcdb8a 109.5px,#f8b160 290.5px,#f8af5e 356.5px,#fac674 501.5px,#fbd483 606.5px,#fde695 759.5px,#fde696 764.5px)"></div>
<div style="top:356px;height:2px;width:765px;background:linear-gradient(90deg,#fde998 0.5px,#fcdb8a 110.5px,#f8b261 290.5px,#f8b160 357.5px,#fac775 503.5px,#fde594 742.5px,#fde696 764.5px)"></div>
<div style="top:358px;height:2px;width:765px;background:linear-gradient(90deg,#fde999 0.5px,#fcdc8a 111.5px,#f8b362 290.5px,#f8b261 359.5px,#fac876 505.5px,#fde594 745.5px,#fde696 764.5px)"></div>
<div style="top:360px;height:2px;width:765px;background:linear-gradient(90deg,#fde999 0.5px,#fcdc8a 113.5px,#f9b564 289.5px,#f8b462 359.5px,#fac977 509.5px,#fde595 748.5px,#fde696 764.5px)"></div>
<div style="top:362px;height:2px;width:765px;background:linear-gradient(90deg,#fde999 0.5px,#fcdc8a 114.5px,#f9b665 289.5px,#f9b564 360.5px,#faca78 512.5px,#fde695 751.5px,#fde696 764.5px)"></div>
<div style="top:364px;height:2px;width:765px;background:linear-gradient(90deg,#fde999 0.5px,#fcdc8b 115.5px,#f9b866 289.5px,#f9b765 361.5px,#facb79 516.5px,#fde695 754.5px,#fde696 764.5px)"></div>
<div style="top:366px;height:2px;width:765px;background:linear-gradient(90deg,#fde999 0.5px,#fcdc8b 117.5px,#f9b968 289.5px,#f9b867 362.5px,#facc7b 521.5px,#fde695 757.5px,#fde796 764.5px)"></div>
<div style="top:368px;height:2px;width:765px;background:linear-gradient(90deg,#fde999 0.5px,#fcdc8b 118.5px,#f9ba69 289.5px,#f9ba68 363.5px,#fbce7c 527.5px,#fde696 760.5px,#fde796 764.5px)"></div>
<div style="top:370px;height:2px;width:765px;background:linear-gradient(90deg,#fde999 0.5px,#fcdc8b 120.5px,#f9bc6a 288.5px,#f9bb69 364.5px,#fbcf7d 532.5px,#fde796 763.5px,#fde796 764.5px)"></div>
<div style="top:372px;height:2px;width:765px;background:linear-gradient(90deg,#fde999 0.5px,#fcdc8b 121.5px,#f9bd6b 288.5px,#f9bc6b 365.5px,#fbd07f 539.5px,#fde796 764.5px)"></div>
<div style="top:374px;height:2px;width:765px;background:linear-gradient(90deg,#fde999 0.5px,#fcdc8b 123.5px,#f9be6d 288.5px,#f9be6c 367.5px,#fbd280 548.5px,#fde796 764.5px)"></div>
<div style="top:376px;height:2px;width:765px;background:linear-gradient(90deg,#fdea9a 0.5px,#fcdc8b 125.5px,#f9c06e 287.5px,#f9bf6d 367.5px,#fde391 700.5px,#fde796 764.5px)"></div>
<div style="top:378px;height:2px;width:765px;background:linear-gradient(90deg,#fdea9a 0.5px,#fcdd8b 127.5px,#f9c16f 288.5px,#f9c06f 370.5px,#fde493 713.5px,#fde796 764.5px)"></div>
<div style="top:380px;height:2px;width:765px;background:linear-gradient(90deg,#fdea9a 0.5px,#fcdd8b 129.5px,#fac270 289.5px,#fac270 373.5px,#fde594 723.5px,#fde797 764.5px)"></div>
<div style="top:382px;height:2px;width:765px;background:linear-gradient(90deg,#fdea9a 0.5px,#fcdd8b 131.5px,#fac371 290.5px,#fac371 376.5px,#fde595 733.5px,#fde797 764.5px)"></div>
<div style="top:384px;height:2px;width:765px;background:linear-gradient(90deg,#fdea9a 0.5px,#fcdd8c 133.5px,#fac472 292.5px,#fac573 380.5px,#fde696 746.5px,#fde797 764.5px)"></div>
<div style="top:386px;height:2px;width:765px;background:linear-gradient(90deg,#fdea9a 0.5px,#fcdd8c 136.5px,#fac573 294.5px,#fac674 384.5px,#fde797 761.5px,#fde797 764.5px)"></div>
<div style="top:388px;height:2px;width:765px;background:linear-gradient(90deg,#fdea9a 0.5px,#fcdd8c 138.5px,#fac674 296.5px,#fac876 389.5px,#fde797 764.5px)"></div>
<div style="top:390px;height:2px;width:765px;background:linear-gradient(90deg,#fdea9a 0.5px,#fcdd8c 141.5px,#fac775 299.5px,#fac977 394.5px,#fde797 764.5px)"></div>
<div style="top:392px;height:2px;width:765px;background:linear-gradient(90deg,#fdea9a 0.5px,#fcdd8c 143.5px,#fac876 301.5px,#facb79 398.5px,#fde897 764.5px)"></div>
<div style="top:394px;height:2px;width:765px;background:linear-gradient(90deg,#fdea9a 0.5px,#fcdd8c 146.5px,#fac977 303.5px,#facc7a 402.5px,#fde897 764.5px)"></div>
<div style="top:396px;height:2px;width:765px;background:linear-gradient(90deg,#fdea9b 0.5px,#fcdd8c 149.5px,#faca78 304.5px,#fbcd7b 406.5px,#fde897 764.5px)"></div>
<div style="top:398px;height:2px;width:765px;background:linear-gradient(90deg,#fdeb9b 0.5px,#fcdd8c 152.5px,#facb79 305.5px,#fbcf7d 411.5px,#fde897 764.5px)"></div>
<div style="top:400px;height:2px;width:765px;background:linear-gradient(90deg,#fdeb9b 0.5px,#fcdd8c 156.5px,#facc7a 307.5px,#fbd07e 418.5px,#fde898 764.5px)"></div>
<div style="top:402px;height:2px;width:765px;background:linear-gradient(90deg,#fdeb9b 0.5px,#fcdd8c 159.5px,#fbcd7b 309.5px,#fbd280 426.5px,#fde898 764.5px)"></div>
<div style="top:404px;height:2px;width:765px;background:linear-gradient(90deg,#fdeb9b 0.5px,#fcdd8c 163.5px,#fbce7c 311.5px,#fbd382 436.5px,#fde898 764.5px)"></div>
<div style="top:406px;height:2px;width:765px;background:linear-gradient(90deg,#fdeb9b 0.5px,#fcdd8c 167.5px,#fbcf7d 313.5px,#fbd583 449.5px,#fde898 764.5px)"></div>
<div style="top:408px;height:2px;width:765px;background:linear-gradient(90deg,#fdeb9b 0.5px,#fcdd8c 171.5px,#fbd07e 316.5px,#fcd886 484.5px,#fde898 764.5px)"></div>
<div style="top:410px;height:2px;width:765px;background:linear-gradient(90deg,#fdeb9b 0.5px,#fcdd8c 175.5px,#fbd07f 318.5px,#fcdf8d 599.5px,#fde898 764.5px)"></div>
<div style="top:412px;height:2px;width:765px;background:linear-gradient(90deg,#fdeb9b 0.5px,#fcdd8c 180.5px,#fbd180 322.5px,#fde594 697.5px,#fde898 764.5px)"></div>
<div style="top:414px;height:2px;width:765px;background:linear-gradient(90deg,#fdeb9c 0.5px,#fcdd8c 185.5px,#fbd281 325.5px,#fde898 764.5px)"></div>
<div style="top:416px;height:2px;width:765px;background:linear-gradient(90deg,#fdeb9c 0.5px,#fcdd8c 190.5px,#fbd381 329.5px,#fde998 764.5px)"></div>
<div style="top:418px;height:2px;width:765px;background:linear-gradient(90deg,#fdeb9c 0.5px,#fcdd8c 196.5px,#fbd482 334.5px,#fde998 764.5px)"></div>
<div style="top:420px;height:2px;width:765px;background:linear-gradient(90deg,#fdec9c 0.5px,#fcdd8b 203.5px,#fbd583 339.5px,#fde999 764.5px)"></div>
<div style="top:422px;height:2px;width:765px;background:linear-gradient(90deg,#fdec9c 0.5px,#fcdd8b 211.5px,#fbd684 346.5px,#fde999 764.5px)"></div>
<div style="top:424px;height:2px;width:765px;background:linear-gradient(90deg,#fdec9c 0.5px,#fcdc8b 221.5px,#fcd685 355.5px,#fde999 764.5px)"></div>
<div style="top:426px;height:2px;width:765px;background:linear-gradient(90deg,#fdec9c 0.5px,#fcdc8a 236.5px,#fcd886 369.5px,#fde999 764.5px)"></div>
<div style="top:428px;height:2px;width:765px;background:linear-gradient(90deg,#fdec9c 0.5px,#fcd886 330.5px,#fde999 764.5px)"></div>
<div style="top:430px;height:2px;width:765px;background:linear-gradient(90deg,#fdec9c 0.5px,#fcd987 331.5px,#fde999 764.5px)"></div>
<div style="top:432px;height:2px;width:765px;background:linear-gradient(90deg,#fdec9c 0.5px,#fcd988 333.5px,#fde999 764.5px)"></div>
<div style="top:434px;height:2px;width:765px;background:linear-gradient(90deg,#fdec9d 0.5px,#fcda89 334.5px,#fde999 764.5px)"></div>
<div style="top:436px;height:2px;width:765px;background:linear-gradient(90deg,#fdec9d 0.5px,#fcdb89 336.5px,#fdea99 764.5px)"></div>
<div style="top:438px;height:2px;width:765px;background:linear-gradient(90deg,#fdec9d 0.5px,#fcdb8a 337.5px,#fdea9a 764.5px)"></div>
<div style="top:440px;height:2px;width:765px;background:linear-gradient(90deg,#fdec9d 0.5px,#fcdc8b 339.5px,#fdea9a 764.5px)"></div>
<div style="top:442px;height:2px;width:765px;background:linear-gradient(90deg,#fdec9d 0.5px,#fcdd8b 341.5px,#fdea9a 764.5px)"></div>
<div style="top:444px;height:2px;width:765px;background:linear-gradient(90deg,#fdec9d 0.5px,#fcdd8c 343.5px,#fdea9a 764.5px)"></div>
<div style="top:446px;height:2px;width:765px;background:linear-gradient(90deg,#fded9d 0.5px,#fcde8d 345.5px,#fdea9a 764.5px)"></div>
<div style="top:448px;height:2px;width:765px;background:linear-gradient(90deg,#fded9d 0.5px,#fcde8d 347.5px,#fdea9a 764.5px)"></div>
<div style="top:450px;height:2px;width:765px;background:linear-gradient(90deg,#fded9d 0.5px,#fcdf8e 349.5px,#fdea9a 764.5px)"></div>
<div style="top:452px;height:2px;width:765px;background:linear-gradient(90deg,#fded9d 0.5px,#fddf8e 352.5px,#fdea9a 764.5px)"></div>
<div style="top:454px;height:2px;width:765px;background:linear-gradient(90deg,#fded9d 0.5px,#fde08f 354.5px,#fdea9a 764.5px)"></div>
<div style="top:456px;height:2px;width:765px;background:linear-gradient(90deg,#fded9d 0.5px,#fde08f 357.5px,#fdea9b 764.5px)"></div>
<div style="top:458px;height:2px;width:765px;background:linear-gradient(90deg,#fded9e 0.5px,#fde190 360.5px,#fdeb9b 764.5px)"></div>
<div style="top:460px;height:2px;width:765px;background:linear-gradient(90deg,#fded9e 0.5px,#fde190 362.5px,#fdeb9b 764.5px)"></div>
<div style="top:462px;height:2px;width:765px;background:linear-gradient(90deg,#fded9e 0.5px,#fde291 365.5px,#fdeb9b 764.5px)"></div>
<div style="top:464px;height:2px;width:765px;background:linear-gradient(90deg,#fded9e 0.5px,#fde291 369.5px,#fdeb9b 764.5px)"></div>
<div style="top:466px;height:2px;width:765px;background:linear-gradient(90deg,#fded9e 0.5px,#fde392 371.5px,#fdeb9b 764.5px)"></div>
<div style="top:468px;height:2px;width:765px;background:linear-gradient(90deg,#fded9e 0.5px,#fde392 374.5px,#fdeb9b 764.5px)"></div>
<div style="top:470px;height:2px;width:765px;background:linear-gradient(90deg,#fded9e 0.5px,#fde493 377.5px,#fdeb9b 764.5px)"></div>
<div style="top:472px;height:2px;width:765px;background:linear-gradient(90deg,#fded9e 0.5px,#fde493 379.5px,#fdeb9b 764.5px)"></div>
<div style="top:474px;height:2px;width:765px;background:linear-gradient(90deg,#fdee9e 0.5px,#fde493 383.5px,#fdeb9b 764.5px)"></div>
<div style="top:476px;height:2px;width:765px;background:linear-gradient(90deg,#fdee9e 0.5px,#fde594 387.5px,#fdeb9c 764.5px)"></div>
<div style="top:478px;height:2px;width:765px;background:linear-gradient(90deg,#fdee9e 0.5px,#fde594 391.5px,#fdeb9c 764.5px)"></div>
<div style="top:480px;height:2px;width:765px;background:linear-gradient(90deg,#fdee9e 0.5px,#fde594 396.5px,#fdeb9c 764.5px)"></div>
<div style="top:482px;height:2px;width:765px;background:linear-gradient(90deg,#fdee9f 0.5px,#fde595 400.5px,#fdec9c 764.5px)"></div>
<div style="top:484px;height:2px;width:765px;background:linear-gradient(90deg,#fdee9f 0.5px,#fde695 405.5px,#fdec9c 764.5px)"></div>
<div style="top:486px;height:1px;width:765px;background:linear-gradient(90deg,#fdee9f 0.5px,#fde695 409.5px,#fdec9c 764.5px)"></div>
</div>
<div style="position:absolute;left:888.7px;top:23.9px;width:38.0px;height:486.0px;background:linear-gradient(180deg,#fefbae 0.00%,#fde493 3.57%,#fac876 7.14%,#f8ad5c 10.71%,#f79644 14.29%,#f2814d 21.43%,#e3685e 28.57%,#d6566b 35.71%,#c94478 42.86%,#b83388 50.00%,#a5209a 57.14%,#9414a2 64.29%,#7c06a8 71.43%,#6203a6 78.57%,#4a02a0 85.71%,#2e0494 92.86%,#0f0888 100.00%)"></div>
<div style="position:absolute;left:888.7px;top:683.2px;width:38.0px;height:486.0px;background:linear-gradient(180deg,#fefbae 0.00%,#fde493 3.57%,#fac876 7.14%,#f8ad5c 10.71%,#f79644 14.29%,#f2814d 21.43%,#e3685e 28.57%,#d6566b 35.71%,#c94478 42.86%,#b83388 50.00%,#a5209a 57.14%,#9414a2 64.29%,#7c06a8 71.43%,#6203a6 78.57%,#4a02a0 85.71%,#2e0494 92.86%,#0f0888 100.00%)"></div>
<svg width="986" height="2027" style="position:absolute;left:0;top:0">
<rect x="105.75" y="23.85" width="763.55" height="486.05" fill="none" stroke="#000" stroke-width="2"/>
<text x="105.75" y="547.40" text-anchor="middle" font-size="33" >–3</text>
<line x1="214.83" y1="509.90" x2="214.83" y2="499.90" stroke="#000" stroke-width="2"/>
<line x1="214.83" y1="23.85" x2="214.83" y2="33.85" stroke="#000" stroke-width="2"/>
<text x="214.83" y="547.40" text-anchor="middle" font-size="33" >–2</text>
<line x1="323.91" y1="509.90" x2="323.91" y2="499.90" stroke="#000" stroke-width="2"/>
<line x1="323.91" y1="23.85" x2="323.91" y2="33.85" stroke="#000" stroke-width="2"/>
<text x="323.91" y="547.40" text-anchor="middle" font-size="33" >–1</text>
<line x1="432.99" y1="509.90" x2="432.99" y2="499.90" stroke="#000" stroke-width="2"/>
<line x1="432.99" y1="23.85" x2="432.99" y2="33.85" stroke="#000" stroke-width="2"/>
<text x="432.99" y="547.40" text-anchor="middle" font-size="33" >0</text>
<line x1="542.06" y1="509.90" x2="542.06" y2="499.90" stroke="#000" stroke-width="2"/>
<line x1="542.06" y1="23.85" x2="542.06" y2="33.85" stroke="#000" stroke-width="2"/>
<text x="542.06" y="547.40" text-anchor="middle" font-size="33" >1</text>
<line x1="651.14" y1="509.90" x2="651.14" y2="499.90" stroke="#000" stroke-width="2"/>
<line x1="651.14" y1="23.85" x2="651.14" y2="33.85" stroke="#000" stroke-width="2"/>
<text x="651.14" y="547.40" text-anchor="middle" font-size="33" >2</text>
<line x1="760.22" y1="509.90" x2="760.22" y2="499.90" stroke="#000" stroke-width="2"/>
<line x1="760.22" y1="23.85" x2="760.22" y2="33.85" stroke="#000" stroke-width="2"/>
<text x="760.22" y="547.40" text-anchor="middle" font-size="33" >3</text>
<text x="869.30" y="547.40" text-anchor="middle" font-size="33" >4</text>
<text x="93.00" y="520.30" text-anchor="end" font-size="33" >–3</text>
<line x1="105.75" y1="440.46" x2="122.25" y2="440.46" stroke="#000" stroke-width="2"/>
<line x1="869.30" y1="440.46" x2="852.80" y2="440.46" stroke="#000" stroke-width="2"/>
<text x="93.00" y="450.86" text-anchor="end" font-size="33" >–2</text>
<line x1="105.75" y1="371.03" x2="122.25" y2="371.03" stroke="#000" stroke-width="2"/>
<line x1="869.30" y1="371.03" x2="852.80" y2="371.03" stroke="#000" stroke-width="2"/>
<text x="93.00" y="381.43" text-anchor="end" font-size="33" >–1</text>
<line x1="105.75" y1="301.59" x2="122.25" y2="301.59" stroke="#000" stroke-width="2"/>
<line x1="869.30" y1="301.59" x2="852.80" y2="301.59" stroke="#000" stroke-width="2"/>
<text x="93.00" y="311.99" text-anchor="end" font-size="33" >0</text>
<line x1="105.75" y1="232.16" x2="122.25" y2="232.16" stroke="#000" stroke-width="2"/>
<line x1="869.30" y1="232.16" x2="852.80" y2="232.16" stroke="#000" stroke-width="2"/>
<text x="93.00" y="242.56" text-anchor="end" font-size="33" >1</text>
<line x1="105.75" y1="162.72" x2="122.25" y2="162.72" stroke="#000" stroke-width="2"/>
<line x1="869.30" y1="162.72" x2="852.80" y2="162.72" stroke="#000" stroke-width="2"/>
<text x="93.00" y="173.12" text-anchor="end" font-size="33" >2</text>
<line x1="105.75" y1="93.29" x2="122.25" y2="93.29" stroke="#000" stroke-width="2"/>
<line x1="869.30" y1="93.29" x2="852.80" y2="93.29" stroke="#000" stroke-width="2"/>
<text x="93.00" y="103.69" text-anchor="end" font-size="33" >3</text>
<text x="93.00" y="34.25" text-anchor="end" font-size="33" >4</text>
<rect x="888.70" y="23.85" width="38.00" height="486.05" fill="none" stroke="#000" stroke-width="2"/>
<text x="943.00" y="34.30" text-anchor="start" font-size="33" >0</text>
<line x1="888.70" y1="93.29" x2="897.70" y2="93.29" stroke="#000" stroke-width="2"/>
<line x1="926.70" y1="93.29" x2="917.70" y2="93.29" stroke="#000" stroke-width="2"/>
<text x="943.00" y="103.74" text-anchor="start" font-size="33" >–1</text>
<line x1="888.70" y1="162.72" x2="897.70" y2="162.72" stroke="#000" stroke-width="2"/>
<line x1="926.70" y1="162.72" x2="917.70" y2="162.72" stroke="#000" stroke-width="2"/>
<text x="943.00" y="173.17" text-anchor="start" font-size="33" >–2</text>
<line x1="888.70" y1="232.16" x2="897.70" y2="232.16" stroke="#000" stroke-width="2"/>
<line x1="926.70" y1="232.16" x2="917.70" y2="232.16" stroke="#000" stroke-width="2"/>
<text x="943.00" y="242.61" text-anchor="start" font-size="33" >–3</text>
<line x1="888.70" y1="301.59" x2="897.70" y2="301.59" stroke="#000" stroke-width="2"/>
<line x1="926.70" y1="301.59" x2="917.70" y2="301.59" stroke="#000" stroke-width="2"/>
<text x="943.00" y="312.04" text-anchor="start" font-size="33" >–4</text>
<line x1="888.70" y1="371.03" x2="897.70" y2="371.03" stroke="#000" stroke-width="2"/>
<line x1="926.70" y1="371.03" x2="917.70" y2="371.03" stroke="#000" stroke-width="2"/>
<text x="943.00" y="381.48" text-anchor="start" font-size="33" >–5</text>
<line x1="888.70" y1="440.46" x2="897.70" y2="440.46" stroke="#000" stroke-width="2"/>
<line x1="926.70" y1="440.46" x2="917.70" y2="440.46" stroke="#000" stroke-width="2"/>
<text x="943.00" y="450.91" text-anchor="start" font-size="33" >–6</text>
<text x="943.00" y="520.35" text-anchor="start" font-size="33" >–7</text>
<text x="487.52" y="595.90" text-anchor="middle" font-size="33" ><tspan font-style="italic">x</tspan> (a.u.)</text>
<text transform="translate(24.7,266.88) rotate(-90)" text-anchor="middle" font-size="33"><tspan font-style="italic">y</tspan> (a.u.)</text>
<text x="-0.7" y="23.25" font-size="42" font-weight="bold">a</text>
<rect x="105.75" y="683.20" width="763.55" height="486.05" fill="none" stroke="#000" stroke-width="2"/>
<text x="105.75" y="1206.75" text-anchor="middle" font-size="33" >–3</text>
<line x1="214.83" y1="1169.25" x2="214.83" y2="1159.25" stroke="#000" stroke-width="2"/>
<line x1="214.83" y1="683.20" x2="214.83" y2="693.20" stroke="#000" stroke-width="2"/>
<text x="214.83" y="1206.75" text-anchor="middle" font-size="33" >–2</text>
<line x1="323.91" y1="1169.25" x2="323.91" y2="1159.25" stroke="#000" stroke-width="2"/>
<line x1="323.91" y1="683.20" x2="323.91" y2="693.20" stroke="#000" stroke-width="2"/>
<text x="323.91" y="1206.75" text-anchor="middle" font-size="33" >–1</text>
<line x1="432.99" y1="1169.25" x2="432.99" y2="1159.25" stroke="#000" stroke-width="2"/>
<line x1="432.99" y1="683.20" x2="432.99" y2="693.20" stroke="#000" stroke-width="2"/>
<text x="432.99" y="1206.75" text-anchor="middle" font-size="33" >0</text>
<line x1="542.06" y1="1169.25" x2="542.06" y2="1159.25" stroke="#000" stroke-width="2"/>
<line x1="542.06" y1="683.20" x2="542.06" y2="693.20" stroke="#000" stroke-width="2"/>
<text x="542.06" y="1206.75" text-anchor="middle" font-size="33" >1</text>
<line x1="651.14" y1="1169.25" x2="651.14" y2="1159.25" stroke="#000" stroke-width="2"/>
<line x1="651.14" y1="683.20" x2="651.14" y2="693.20" stroke="#000" stroke-width="2"/>
<text x="651.14" y="1206.75" text-anchor="middle" font-size="33" >2</text>
<line x1="760.22" y1="1169.25" x2="760.22" y2="1159.25" stroke="#000" stroke-width="2"/>
<line x1="760.22" y1="683.20" x2="760.22" y2="693.20" stroke="#000" stroke-width="2"/>
<text x="760.22" y="1206.75" text-anchor="middle" font-size="33" >3</text>
<text x="869.30" y="1206.75" text-anchor="middle" font-size="33" >4</text>
<text x="93.00" y="1179.65" text-anchor="end" font-size="33" >–3</text>
<line x1="105.75" y1="1099.81" x2="122.25" y2="1099.81" stroke="#000" stroke-width="2"/>
<line x1="869.30" y1="1099.81" x2="852.80" y2="1099.81" stroke="#000" stroke-width="2"/>
<text x="93.00" y="1110.21" text-anchor="end" font-size="33" >–2</text>
<line x1="105.75" y1="1030.38" x2="122.25" y2="1030.38" stroke="#000" stroke-width="2"/>
<line x1="869.30" y1="1030.38" x2="852.80" y2="1030.38" stroke="#000" stroke-width="2"/>
<text x="93.00" y="1040.78" text-anchor="end" font-size="33" >–1</text>
<line x1="105.75" y1="960.94" x2="122.25" y2="960.94" stroke="#000" stroke-width="2"/>
<line x1="869.30" y1="960.94" x2="852.80" y2="960.94" stroke="#000" stroke-width="2"/>
<text x="93.00" y="971.34" text-anchor="end" font-size="33" >0</text>
<line x1="105.75" y1="891.51" x2="122.25" y2="891.51" stroke="#000" stroke-width="2"/>
<line x1="869.30" y1="891.51" x2="852.80" y2="891.51" stroke="#000" stroke-width="2"/>
<text x="93.00" y="901.91" text-anchor="end" font-size="33" >1</text>
<line x1="105.75" y1="822.07" x2="122.25" y2="822.07" stroke="#000" stroke-width="2"/>
<line x1="869.30" y1="822.07" x2="852.80" y2="822.07" stroke="#000" stroke-width="2"/>
<text x="93.00" y="832.47" text-anchor="end" font-size="33" >2</text>
<line x1="105.75" y1="752.64" x2="122.25" y2="752.64" stroke="#000" stroke-width="2"/>
<line x1="869.30" y1="752.64" x2="852.80" y2="752.64" stroke="#000" stroke-width="2"/>
<text x="93.00" y="763.04" text-anchor="end" font-size="33" >3</text>
<text x="93.00" y="693.60" text-anchor="end" font-size="33" >4</text>
<rect x="888.70" y="683.20" width="38.00" height="486.05" fill="none" stroke="#000" stroke-width="2"/>
<text x="943.00" y="693.65" text-anchor="start" font-size="33" >0</text>
<line x1="888.70" y1="737.21" x2="897.70" y2="737.21" stroke="#000" stroke-width="2"/>
<line x1="926.70" y1="737.21" x2="917.70" y2="737.21" stroke="#000" stroke-width="2"/>
<text x="943.00" y="747.66" text-anchor="start" font-size="33" >–1</text>
<line x1="888.70" y1="791.21" x2="897.70" y2="791.21" stroke="#000" stroke-width="2"/>
<line x1="926.70" y1="791.21" x2="917.70" y2="791.21" stroke="#000" stroke-width="2"/>
<text x="943.00" y="801.66" text-anchor="start" font-size="33" >–2</text>
<line x1="888.70" y1="845.22" x2="897.70" y2="845.22" stroke="#000" stroke-width="2"/>
<line x1="926.70" y1="845.22" x2="917.70" y2="845.22" stroke="#000" stroke-width="2"/>
<text x="943.00" y="855.67" text-anchor="start" font-size="33" >–3</text>
<line x1="888.70" y1="899.22" x2="897.70" y2="899.22" stroke="#000" stroke-width="2"/>
<line x1="926.70" y1="899.22" x2="917.70" y2="899.22" stroke="#000" stroke-width="2"/>
<text x="943.00" y="909.67" text-anchor="start" font-size="33" >–4</text>
<line x1="888.70" y1="953.23" x2="897.70" y2="953.23" stroke="#000" stroke-width="2"/>
<line x1="926.70" y1="953.23" x2="917.70" y2="953.23" stroke="#000" stroke-width="2"/>
<text x="943.00" y="963.68" text-anchor="start" font-size="33" >–5</text>
<line x1="888.70" y1="1007.23" x2="897.70" y2="1007.23" stroke="#000" stroke-width="2"/>
<line x1="926.70" y1="1007.23" x2="917.70" y2="1007.23" stroke="#000" stroke-width="2"/>
<text x="943.00" y="1017.68" text-anchor="start" font-size="33" >–6</text>
<line x1="888.70" y1="1061.24" x2="897.70" y2="1061.24" stroke="#000" stroke-width="2"/>
<line x1="926.70" y1="1061.24" x2="917.70" y2="1061.24" stroke="#000" stroke-width="2"/>
<text x="943.00" y="1071.69" text-anchor="start" font-size="33" >–7</text>
<line x1="888.70" y1="1115.24" x2="897.70" y2="1115.24" stroke="#000" stroke-width="2"/>
<line x1="926.70" y1="1115.24" x2="917.70" y2="1115.24" stroke="#000" stroke-width="2"/>
<text x="943.00" y="1125.69" text-anchor="start" font-size="33" >–8</text>
<text x="943.00" y="1179.70" text-anchor="start" font-size="33" >–9</text>
<text x="487.52" y="1255.25" text-anchor="middle" font-size="33" ><tspan font-style="italic">x</tspan> (a.u.)</text>
<text transform="translate(24.7,926.23) rotate(-90)" text-anchor="middle" font-size="33"><tspan font-style="italic">y</tspan> (a.u.)</text>
<text x="-0.7" y="682.60" font-size="42" font-weight="bold">b</text>
<rect x="123.50" y="1333.10" width="854.80" height="600.60" fill="none" stroke="#000" stroke-width="2"/>
<text x="123.50" y="1971.20" text-anchor="middle" font-size="33" >–4</text>
<line x1="294.46" y1="1933.70" x2="294.46" y2="1924.00" stroke="#000" stroke-width="2"/>
<line x1="294.46" y1="1333.10" x2="294.46" y2="1342.80" stroke="#000" stroke-width="2"/>
<text x="294.46" y="1971.20" text-anchor="middle" font-size="33" >–2</text>
<line x1="465.42" y1="1933.70" x2="465.42" y2="1924.00" stroke="#000" stroke-width="2"/>
<line x1="465.42" y1="1333.10" x2="465.42" y2="1342.80" stroke="#000" stroke-width="2"/>
<text x="465.42" y="1971.20" text-anchor="middle" font-size="33" >0</text>
<line x1="636.38" y1="1933.70" x2="636.38" y2="1924.00" stroke="#000" stroke-width="2"/>
<line x1="636.38" y1="1333.10" x2="636.38" y2="1342.80" stroke="#000" stroke-width="2"/>
<text x="636.38" y="1971.20" text-anchor="middle" font-size="33" >2</text>
<line x1="807.34" y1="1933.70" x2="807.34" y2="1924.00" stroke="#000" stroke-width="2"/>
<line x1="807.34" y1="1333.10" x2="807.34" y2="1342.80" stroke="#000" stroke-width="2"/>
<text x="807.34" y="1971.20" text-anchor="middle" font-size="33" >4</text>
<text x="978.30" y="1971.20" text-anchor="middle" font-size="33" >6</text>
<text x="111.50" y="1944.30" text-anchor="end" font-size="33" >–10</text>
<line x1="123.50" y1="1873.64" x2="133.00" y2="1873.64" stroke="#000" stroke-width="2"/>
<line x1="978.30" y1="1873.64" x2="968.80" y2="1873.64" stroke="#000" stroke-width="2"/>
<text x="111.50" y="1884.24" text-anchor="end" font-size="33" >–9</text>
<line x1="123.50" y1="1813.58" x2="133.00" y2="1813.58" stroke="#000" stroke-width="2"/>
<line x1="978.30" y1="1813.58" x2="968.80" y2="1813.58" stroke="#000" stroke-width="2"/>
<text x="111.50" y="1824.18" text-anchor="end" font-size="33" >–8</text>
<line x1="123.50" y1="1753.52" x2="133.00" y2="1753.52" stroke="#000" stroke-width="2"/>
<line x1="978.30" y1="1753.52" x2="968.80" y2="1753.52" stroke="#000" stroke-width="2"/>
<text x="111.50" y="1764.12" text-anchor="end" font-size="33" >–7</text>
<line x1="123.50" y1="1693.46" x2="133.00" y2="1693.46" stroke="#000" stroke-width="2"/>
<line x1="978.30" y1="1693.46" x2="968.80" y2="1693.46" stroke="#000" stroke-width="2"/>
<text x="111.50" y="1704.06" text-anchor="end" font-size="33" >–6</text>
<line x1="123.50" y1="1633.40" x2="133.00" y2="1633.40" stroke="#000" stroke-width="2"/>
<line x1="978.30" y1="1633.40" x2="968.80" y2="1633.40" stroke="#000" stroke-width="2"/>
<text x="111.50" y="1644.00" text-anchor="end" font-size="33" >–5</text>
<line x1="123.50" y1="1573.34" x2="133.00" y2="1573.34" stroke="#000" stroke-width="2"/>
<line x1="978.30" y1="1573.34" x2="968.80" y2="1573.34" stroke="#000" stroke-width="2"/>
<text x="111.50" y="1583.94" text-anchor="end" font-size="33" >–4</text>
<line x1="123.50" y1="1513.28" x2="133.00" y2="1513.28" stroke="#000" stroke-width="2"/>
<line x1="978.30" y1="1513.28" x2="968.80" y2="1513.28" stroke="#000" stroke-width="2"/>
<text x="111.50" y="1523.88" text-anchor="end" font-size="33" >–3</text>
<line x1="123.50" y1="1453.22" x2="133.00" y2="1453.22" stroke="#000" stroke-width="2"/>
<line x1="978.30" y1="1453.22" x2="968.80" y2="1453.22" stroke="#000" stroke-width="2"/>
<text x="111.50" y="1463.82" text-anchor="end" font-size="33" >–2</text>
<line x1="123.50" y1="1393.16" x2="133.00" y2="1393.16" stroke="#000" stroke-width="2"/>
<line x1="978.30" y1="1393.16" x2="968.80" y2="1393.16" stroke="#000" stroke-width="2"/>
<text x="111.50" y="1403.76" text-anchor="end" font-size="33" >–1</text>
<text x="111.50" y="1343.70" text-anchor="end" font-size="33" >0</text>
<text x="550.90" y="2019.50" text-anchor="middle" font-size="33" ><tspan font-style="italic">r</tspan> (bond-axis) (a.u.)</text>
<text transform="translate(42.1,1633.40) rotate(-90)" text-anchor="middle" font-size="33"><tspan font-family="Liberation Serif" font-style="italic">υ</tspan><tspan font-style="italic" font-size="25" dy="8.5">xc</tspan><tspan dy="-8.5"> (a.u.)</tspan></text>
<text x="0" y="1335" font-size="42" font-weight="bold">c</text>
<polyline points="123.5,1347.2 125.0,1347.3 126.5,1347.4 128.0,1347.4 129.5,1347.5 131.0,1347.6 132.5,1347.7 134.0,1347.8 135.5,1347.9 137.0,1347.9 138.5,1348.0 140.0,1348.1 141.5,1348.2 143.0,1348.3 144.5,1348.4 146.0,1348.5 147.5,1348.6 149.0,1348.6 150.5,1348.7 152.0,1348.8 153.5,1348.9 155.0,1349.0 156.5,1349.1 158.0,1349.2 159.5,1349.3 161.0,1349.4 162.5,1349.5 164.0,1349.5 165.5,1349.6 167.0,1349.7 168.5,1349.8 170.0,1349.9 171.5,1350.0 173.0,1350.1 174.5,1350.2 176.0,1350.3 177.5,1350.4 179.0,1350.4 180.5,1350.5 182.0,1350.6 183.5,1350.7 185.0,1350.8 186.5,1350.9 188.0,1351.0 189.5,1351.1 191.0,1351.2 192.5,1351.3 194.0,1351.4 195.5,1351.5 197.0,1351.6 198.5,1351.7 200.0,1351.8 201.5,1351.9 203.0,1352.0 204.5,1352.1 206.0,1352.2 207.5,1352.3 209.0,1352.4 210.5,1352.5 212.0,1352.6 213.5,1352.8 215.0,1352.9 216.5,1353.0 218.0,1353.1 219.5,1353.2 221.0,1353.4 222.5,1353.5 224.0,1353.6 225.5,1353.8 227.0,1353.9 228.5,1354.1 230.0,1354.2 231.5,1354.4 233.0,1354.5 234.5,1354.7 236.0,1354.8 237.5,1355.0 239.0,1355.2 240.5,1355.4 242.0,1355.5 243.5,1355.7 245.0,1355.9 246.5,1356.1 248.0,1356.3 249.5,1356.4 251.0,1356.6 252.5,1356.8 254.0,1357.0 255.5,1357.2 257.0,1357.4 258.5,1357.6 260.0,1357.8 261.5,1358.0 263.0,1358.2 264.5,1358.4 266.0,1358.6 267.5,1358.8 269.0,1359.0 270.5,1359.2 272.0,1359.4 273.5,1359.6 275.0,1359.8 276.5,1360.1 278.0,1360.3 279.5,1360.5 281.0,1360.7 282.5,1361.0 284.0,1361.2 285.5,1361.5 287.0,1361.7 288.5,1362.0 290.0,1362.3 291.5,1362.5 293.0,1362.8 294.5,1363.1 296.0,1363.4 297.5,1363.8 299.0,1364.1 300.5,1364.5 302.0,1364.9 303.5,1365.3 305.0,1365.7 306.5,1366.1 308.0,1366.5 309.5,1366.9 311.0,1367.4 312.5,1367.8 314.0,1368.3 315.5,1368.7 317.0,1369.1 318.5,1369.6 320.0,1370.1 321.5,1370.5 323.0,1371.0 324.5,1371.5 326.0,1372.0 327.5,1372.5 329.0,1373.0 330.5,1373.5 332.0,1373.9 333.5,1374.4 335.0,1374.8 336.5,1375.3 338.0,1375.7 339.5,1376.1 341.0,1376.5 342.5,1377.0 344.0,1377.4 345.5,1377.9 347.0,1378.3 348.5,1378.8 350.0,1379.4 351.5,1379.9 353.0,1380.5 354.5,1381.1 356.0,1381.7 357.5,1382.3 359.0,1382.9 360.5,1383.6 362.0,1384.2 363.5,1384.8 365.0,1385.4 366.5,1386.1 368.0,1386.7 369.5,1387.3 371.0,1387.9 372.5,1388.6 374.0,1389.2 375.5,1389.8 377.0,1390.5 378.5,1391.1 380.0,1391.8 381.5,1392.5 383.0,1393.2 384.5,1393.8 386.0,1394.5 387.5,1395.2 389.0,1396.0 390.5,1396.7 392.0,1397.4 393.5,1398.1 395.0,1398.8 396.5,1399.6 398.0,1400.3 399.5,1401.1 401.0,1402.0 402.5,1402.8 404.0,1403.4 405.5,1404.0 407.0,1404.4 408.5,1404.8 410.0,1405.0 411.5,1405.1 413.0,1405.2 414.5,1405.3 416.0,1405.3 417.5,1405.0 419.0,1404.6 420.5,1404.2 422.0,1403.6 423.5,1402.7 425.0,1401.7 426.5,1400.1 427.3,1399.2 431.1,1396.7 433.6,1401.5 435.2,1406.5 436.3,1413.0 438.0,1420.0 439.5,1427.0 440.4,1434.0 442.0,1446.7 445.3,1466.0 449.0,1497.4 451.8,1524.8 454.0,1552.1 455.7,1579.5 456.6,1600.0 458.6,1639.5 460.6,1679.0 462.1,1710.6 462.8,1740.0 463.5,1760.0 464.3,1800.0 465.5,1850.0 466.3,1877.0 467.2,1850.0 468.0,1800.0 468.8,1760.0 469.5,1740.0 469.9,1710.6 471.4,1679.0 473.3,1639.5 475.3,1600.0 476.0,1579.5 477.8,1552.1 480.1,1524.8 482.8,1497.4 486.0,1468.0 488.5,1453.8 491.0,1439.6 491.9,1432.0 492.0,1425.6 492.6,1420.5 494.0,1412.9 495.8,1405.3 497.0,1400.2 501.8,1396.7 507.4,1401.7 508.9,1403.4 510.4,1404.7 511.9,1405.5 513.4,1406.1 514.9,1406.6 516.4,1406.8 517.9,1406.7 519.4,1406.5 520.9,1406.3 522.4,1405.9 523.9,1405.6 525.4,1405.2 526.9,1404.8 528.4,1404.3 529.9,1403.8 531.4,1403.4 532.9,1402.9 534.4,1402.5 535.9,1402.0 537.4,1401.5 538.9,1401.1 540.4,1400.7 541.9,1400.3 543.4,1399.9 544.9,1399.5 546.4,1399.1 547.9,1398.8 549.4,1398.4 550.9,1398.1 552.4,1397.7 553.9,1397.3 555.4,1396.9 556.9,1396.6 558.4,1396.2 559.9,1395.8 561.4,1395.5 562.9,1395.1 564.4,1394.8 565.9,1394.5 567.4,1394.2 568.9,1393.9 570.4,1393.6 571.9,1393.4 573.4,1393.1 574.9,1392.9 576.4,1392.7 577.9,1392.4 579.4,1392.2 580.9,1392.0 582.4,1391.8 583.9,1391.7 585.4,1391.5 586.9,1391.3 588.4,1391.1 589.9,1391.0 591.4,1390.8 592.9,1390.6 594.4,1390.5 595.9,1390.4 597.4,1390.2 598.9,1390.1 600.4,1390.0 601.9,1389.8 603.4,1389.7 604.9,1389.5 606.4,1389.4 607.9,1389.2 609.4,1389.1 610.9,1388.9 612.4,1388.6 613.9,1388.2 615.4,1387.4 616.9,1386.2 618.4,1384.6 619.9,1382.2 621.4,1378.5 622.9,1378.5 624.4,1379.9 625.9,1381.2 627.4,1382.9 628.9,1384.5 630.4,1385.1 631.9,1384.7 633.4,1384.1 634.9,1383.5 636.4,1383.1 637.9,1382.7 639.4,1382.4 640.9,1382.1 642.4,1381.7 643.9,1381.3 645.4,1381.0 646.9,1380.5 648.4,1380.1 649.9,1379.7 651.4,1379.3 652.9,1378.9 654.4,1378.5 655.9,1378.2 657.4,1378.0 658.9,1377.8 660.4,1377.5 661.9,1377.3 663.4,1377.0 664.9,1376.6 666.4,1376.2 667.9,1375.7 669.4,1375.2 670.9,1374.7 672.4,1374.2 673.9,1373.6 675.4,1373.1 676.9,1372.6 678.4,1372.0 679.9,1371.5 681.4,1371.1 682.9,1370.6 684.4,1370.2 685.9,1369.7 687.4,1369.3 688.9,1368.8 690.4,1368.4 691.9,1368.0 693.4,1367.5 694.9,1367.1 696.4,1366.7 697.9,1366.3 699.4,1365.9 700.9,1365.5 702.4,1365.0 703.9,1364.6 705.4,1364.2 706.9,1363.8 708.4,1363.5 709.9,1363.1 711.4,1362.8 712.9,1362.5 714.4,1362.2 715.9,1361.9 717.4,1361.6 718.9,1361.3 720.4,1361.1 721.9,1360.8 723.4,1360.6 724.9,1360.3 726.4,1360.1 727.9,1359.8 729.4,1359.6 730.9,1359.4 732.4,1359.1 733.9,1358.9 735.4,1358.7 736.9,1358.5 738.4,1358.3 739.9,1358.0 741.4,1357.8 742.9,1357.6 744.4,1357.4 745.9,1357.2 747.4,1357.0 748.9,1356.8 750.4,1356.6 751.9,1356.4 753.4,1356.2 754.9,1356.0 756.4,1355.8 757.9,1355.6 759.4,1355.4 760.9,1355.2 762.4,1355.0 763.9,1354.8 765.4,1354.7 766.9,1354.5 768.4,1354.3 769.9,1354.1 771.4,1353.9 772.9,1353.7 774.4,1353.5 775.9,1353.3 777.4,1353.1 778.9,1352.9 780.4,1352.6 781.9,1352.4 783.4,1352.2 784.9,1352.0 786.4,1351.8 787.9,1351.6 789.4,1351.4 790.9,1351.2 792.4,1351.0 793.9,1350.8 795.4,1350.6 796.9,1350.5 798.4,1350.3 799.9,1350.2 801.4,1350.0 802.9,1349.9 804.4,1349.8 805.9,1349.7 807.4,1349.5 808.9,1349.4 810.4,1349.3 811.9,1349.2 813.4,1349.1 814.9,1349.0 816.4,1348.9 817.9,1348.8 819.4,1348.7 820.9,1348.6 822.4,1348.5 823.9,1348.4 825.4,1348.3 826.9,1348.2 828.4,1348.2 829.9,1348.1 831.4,1348.0 832.9,1347.9 834.4,1347.8 835.9,1347.8 837.4,1347.7 838.9,1347.6 840.4,1347.5 841.9,1347.5 843.4,1347.4 844.9,1347.3 846.4,1347.2 847.9,1347.2 849.4,1347.1 850.9,1347.0 852.4,1347.0 853.9,1346.9 855.4,1346.8 856.9,1346.8 858.4,1346.7 859.9,1346.6 861.4,1346.6 862.9,1346.5 864.4,1346.4 865.9,1346.4 867.4,1346.3 868.9,1346.3 870.4,1346.2 871.9,1346.1 873.4,1346.1 874.9,1346.0 876.4,1346.0 877.9,1345.9 879.4,1345.9 880.9,1345.8 882.4,1345.8 883.9,1345.7 885.4,1345.6 886.9,1345.6 888.4,1345.5 889.9,1345.5 891.4,1345.5 892.9,1345.4 894.4,1345.4 895.9,1345.3 897.4,1345.3 898.9,1345.2 900.4,1345.2 901.9,1345.1 903.4,1345.1 904.9,1345.0 906.4,1345.0 907.9,1345.0 909.4,1344.9 910.9,1344.9 912.4,1344.8 913.9,1344.8 915.4,1344.8 916.9,1344.7 918.4,1344.7 919.9,1344.7 921.4,1344.6 922.9,1344.6 924.4,1344.5 925.9,1344.5 927.4,1344.5 928.9,1344.4 930.4,1344.4 931.9,1344.4 933.4,1344.3 934.9,1344.3 936.4,1344.3 937.9,1344.2 939.4,1344.2 940.9,1344.1 942.4,1344.1 943.9,1344.1 945.4,1344.0 946.9,1344.0 948.4,1344.0 949.9,1343.9 951.4,1343.9 952.9,1343.9 954.4,1343.8 955.9,1343.8 957.4,1343.7 958.9,1343.7 960.4,1343.7 961.9,1343.6 963.4,1343.6 964.9,1343.6 966.4,1343.5 967.9,1343.5 969.4,1343.5 970.9,1343.4 972.4,1343.4 973.9,1343.4 975.4,1343.3 976.9,1343.3 977.3,1343.3" fill="none" stroke="#9400d3" stroke-width="4.5" stroke-linejoin="round"/>
<polyline points="123.5,1337.4 125.0,1337.5 126.5,1337.6 128.0,1337.6 129.5,1337.7 131.0,1337.8 132.5,1337.9 134.0,1338.0 135.5,1338.1 137.0,1338.1 138.5,1338.2 140.0,1338.3 141.5,1338.4 143.0,1338.5 144.5,1338.6 146.0,1338.7 147.5,1338.7 149.0,1338.8 150.5,1338.9 152.0,1339.0 153.5,1339.1 155.0,1339.2 156.5,1339.3 158.0,1339.4 159.5,1339.5 161.0,1339.6 162.5,1339.7 164.0,1339.7 165.5,1339.8 167.0,1339.9 168.5,1340.0 170.0,1340.1 171.5,1340.2 173.0,1340.3 174.5,1340.4 176.0,1340.5 177.5,1340.6 179.0,1340.7 180.5,1340.8 182.0,1340.9 183.5,1341.0 185.0,1341.1 186.5,1341.2 188.0,1341.3 189.5,1341.4 191.0,1341.5 192.5,1341.6 194.0,1341.7 195.5,1341.8 197.0,1341.9 198.5,1342.0 200.0,1342.1 201.5,1342.2 203.0,1342.3 204.5,1342.4 206.0,1342.5 207.5,1342.6 209.0,1342.7 210.5,1342.8 212.0,1343.0 213.5,1343.1 215.0,1343.2 216.5,1343.3 218.0,1343.4 219.5,1343.5 221.0,1343.7 222.5,1343.8 224.0,1343.9 225.5,1344.0 227.0,1344.2 228.5,1344.3 230.0,1344.4 231.5,1344.6 233.0,1344.7 234.5,1344.8 236.0,1345.0 237.5,1345.1 239.0,1345.3 240.5,1345.4 242.0,1345.6 243.5,1345.7 245.0,1345.9 246.5,1346.0 248.0,1346.2 249.5,1346.3 251.0,1346.5 252.5,1346.7 254.0,1346.8 255.5,1347.0 257.0,1347.2 258.5,1347.3 260.0,1347.5 261.5,1347.7 263.0,1347.9 264.5,1348.0 266.0,1348.2 267.5,1348.4 269.0,1348.6 270.5,1348.8 272.0,1349.0 273.5,1349.2 275.0,1349.4 276.5,1349.6 278.0,1349.8 279.5,1350.0 281.0,1350.2 282.5,1350.4 284.0,1350.6 285.5,1350.9 287.0,1351.1 288.5,1351.4 290.0,1351.6 291.5,1351.9 293.0,1352.1 294.5,1352.4 296.0,1352.7 297.5,1353.0 299.0,1353.4 300.5,1353.7 302.0,1354.1 303.5,1354.4 305.0,1354.8 306.5,1355.2 308.0,1355.6 309.5,1356.0 311.0,1356.5 312.5,1356.9 314.0,1357.3 315.5,1357.7 317.0,1358.1 318.5,1358.5 320.0,1359.0 321.5,1359.4 323.0,1359.8 324.5,1360.2 326.0,1360.7 327.5,1361.1 329.0,1361.6 330.5,1362.1 332.0,1362.5 333.5,1363.0 335.0,1363.5 336.5,1364.0 338.0,1364.5 339.5,1365.1 341.0,1365.6 342.5,1366.1 344.0,1366.7 345.5,1367.2 347.0,1367.8 348.5,1368.3 350.0,1368.9 351.5,1369.5 353.0,1370.1 354.5,1370.7 356.0,1371.3 357.5,1371.9 359.0,1372.5 360.5,1373.1 362.0,1373.7 363.5,1374.3 365.0,1374.9 366.5,1375.5 368.0,1376.1 369.5,1376.7 371.0,1377.3 372.5,1378.0 374.0,1378.6 375.5,1379.2 377.0,1379.8 378.5,1380.4 380.0,1381.0 381.5,1381.6 383.0,1382.2 384.5,1382.8 386.0,1383.4 387.5,1384.0 389.0,1384.6 390.5,1385.2 392.0,1385.8 393.5,1386.4 395.0,1387.0 396.5,1387.6 398.0,1388.1 399.5,1388.7 401.0,1389.2 402.5,1389.7 404.0,1390.2 405.5,1390.8 407.0,1391.4 408.5,1392.0 410.0,1392.7 411.5,1393.3 413.0,1394.0 414.5,1394.6 416.0,1395.3 417.5,1395.9 419.0,1396.6 420.5,1397.2 422.0,1398.0 423.5,1398.9 425.0,1399.9 426.5,1401.1 427.8,1402.2 431.4,1406.3 434.4,1412.4 437.0,1419.5 439.5,1427.1 441.2,1434.2 444.0,1446.7 447.3,1466.0 449.5,1480.0 451.0,1497.4 453.8,1524.8 456.1,1552.1 457.9,1579.5 459.2,1600.0 461.3,1639.5 463.7,1671.1 465.2,1692.0 466.1,1712.0 466.9,1692.0 467.6,1679.0 470.4,1639.5 472.4,1600.0 473.9,1579.5 475.7,1552.1 478.0,1524.8 480.7,1497.4 483.8,1468.0 486.6,1453.8 489.9,1435.0 490.9,1430.6 492.7,1423.0 494.7,1415.4 497.2,1408.3 500.3,1403.3 504.3,1399.2 505.8,1398.4 507.3,1397.6 508.8,1396.9 510.3,1396.2 511.8,1395.6 513.3,1395.1 514.8,1394.5 516.3,1394.0 517.8,1393.5 519.3,1393.0 520.8,1392.5 522.3,1392.0 523.8,1391.6 525.3,1391.1 526.8,1390.6 528.3,1390.2 529.8,1389.7 531.3,1389.1 532.8,1388.6 534.3,1388.0 535.8,1387.4 537.3,1386.9 538.8,1386.3 540.3,1385.8 541.8,1385.3 543.3,1384.8 544.8,1384.3 546.3,1383.9 547.8,1383.4 549.3,1383.0 550.8,1382.7 552.3,1382.4 553.8,1382.0 555.3,1381.7 556.8,1381.4 558.3,1381.2 559.8,1380.9 561.3,1380.6 562.8,1380.4 564.3,1380.1 565.8,1379.9 567.3,1379.7 568.8,1379.5 570.3,1379.4 571.8,1379.2 573.3,1379.1 574.8,1378.9 576.3,1378.7 577.8,1378.6 579.3,1378.5 580.8,1378.3 582.3,1378.2 583.8,1378.1 585.3,1378.0 586.8,1377.9 588.3,1377.8 589.8,1377.8 591.3,1377.8 592.8,1377.8 594.3,1377.9 595.8,1378.0 597.3,1378.2 598.8,1378.3 600.3,1378.5 601.8,1378.7 603.3,1378.9 604.8,1379.1 606.3,1379.2 607.8,1379.3 609.3,1379.5 610.8,1379.6 612.3,1379.7 613.8,1379.8 615.3,1379.9 616.8,1380.0 618.3,1380.1 619.8,1380.3 621.3,1380.5 622.8,1380.9 624.3,1381.2 625.8,1381.4 627.3,1381.3 628.8,1380.8 630.3,1379.9 631.8,1379.0 633.3,1378.0 634.8,1376.9 636.3,1375.8 637.8,1374.7 639.3,1373.9 640.8,1373.2 642.3,1372.6 643.8,1372.1 645.3,1371.6 646.8,1371.1 648.3,1370.6 649.8,1370.2 651.3,1369.7 652.8,1369.3 654.3,1368.9 655.8,1368.5 657.3,1368.0 658.8,1367.6 660.3,1367.1 661.8,1366.7 663.3,1366.2 664.8,1365.8 666.3,1365.3 667.8,1364.9 669.3,1364.5 670.8,1364.1 672.3,1363.7 673.8,1363.4 675.3,1363.1 676.8,1362.8 678.3,1362.5 679.8,1362.1 681.3,1361.8 682.8,1361.4 684.3,1361.0 685.8,1360.6 687.3,1360.2 688.8,1359.8 690.3,1359.4 691.8,1359.0 693.3,1358.5 694.8,1358.1 696.3,1357.7 697.8,1357.2 699.3,1356.8 700.8,1356.4 702.3,1356.0 703.8,1355.6 705.3,1355.2 706.8,1354.8 708.3,1354.4 709.8,1354.0 711.3,1353.7 712.8,1353.4 714.3,1353.0 715.8,1352.7 717.3,1352.3 718.8,1352.0 720.3,1351.7 721.8,1351.4 723.3,1351.0 724.8,1350.7 726.3,1350.4 727.8,1350.1 729.3,1349.8 730.8,1349.5 732.3,1349.3 733.8,1349.0 735.3,1348.7 736.8,1348.5 738.3,1348.2 739.8,1348.0 741.3,1347.7 742.8,1347.5 744.3,1347.3 745.8,1347.1 747.3,1346.8 748.8,1346.6 750.3,1346.4 751.8,1346.2 753.3,1346.0 754.8,1345.8 756.3,1345.7 757.8,1345.5 759.3,1345.3 760.8,1345.1 762.3,1344.9 763.8,1344.8 765.3,1344.6 766.8,1344.4 768.3,1344.2 769.8,1344.1 771.3,1343.9 772.8,1343.7 774.3,1343.6 775.8,1343.4 777.3,1343.2 778.8,1343.1 780.3,1342.9 781.8,1342.7 783.3,1342.6 784.8,1342.4 786.3,1342.2 787.8,1342.1 789.3,1341.9 790.8,1341.8 792.3,1341.6 793.8,1341.4 795.3,1341.3 796.8,1341.2 798.3,1341.0 799.8,1340.9 801.3,1340.7 802.8,1340.6 804.3,1340.5 805.8,1340.4 807.3,1340.2 808.8,1340.1 810.3,1340.0 811.8,1339.9 813.3,1339.8 814.8,1339.7 816.3,1339.6 817.8,1339.5 819.3,1339.4 820.8,1339.3 822.3,1339.2 823.8,1339.1 825.3,1339.0 826.8,1338.9 828.3,1338.8 829.8,1338.7 831.3,1338.6 832.8,1338.5 834.3,1338.4 835.8,1338.4 837.3,1338.3 838.8,1338.2 840.3,1338.1 841.8,1338.1 843.3,1338.0 844.8,1337.9 846.3,1337.8 847.8,1337.8 849.3,1337.7 850.8,1337.7 852.3,1337.6 853.8,1337.5 855.3,1337.5 856.8,1337.4 858.3,1337.3 859.8,1337.3 861.3,1337.2 862.8,1337.2 864.3,1337.1 865.8,1337.1 867.3,1337.0 868.8,1337.0 870.3,1336.9 871.8,1336.9 873.3,1336.8 874.8,1336.8 876.3,1336.7 877.8,1336.7 879.3,1336.6 880.8,1336.6 882.3,1336.5 883.8,1336.5 885.3,1336.5 886.8,1336.4 888.3,1336.4 889.8,1336.4 891.3,1336.3 892.8,1336.3 894.3,1336.3 895.8,1336.2 897.3,1336.2 898.8,1336.2 900.3,1336.2 901.8,1336.1 903.3,1336.1 904.8,1336.1 906.3,1336.1 907.8,1336.0 909.3,1336.0 910.8,1336.0 912.3,1336.0 913.8,1335.9 915.3,1335.9 916.8,1335.9 918.3,1335.9 919.8,1335.9 921.3,1335.8 922.8,1335.8 924.3,1335.8 925.8,1335.8 927.3,1335.8 928.8,1335.8 930.3,1335.8 931.8,1335.7 933.3,1335.7 934.8,1335.7 936.3,1335.7 937.8,1335.7 939.3,1335.7 940.8,1335.7 942.3,1335.7 943.8,1335.7 945.3,1335.7 946.8,1335.7 948.3,1335.7 949.8,1335.7 951.3,1335.7 952.8,1335.6 954.3,1335.6 955.8,1335.6 957.3,1335.6 958.8,1335.6 960.3,1335.6 961.8,1335.6 963.3,1335.6 964.8,1335.6 966.3,1335.6 967.8,1335.6 969.3,1335.6 970.8,1335.6 972.3,1335.6 973.8,1335.6 975.3,1335.6 976.8,1335.6 977.3,1335.6" fill="none" stroke="#009e73" stroke-width="4.5" stroke-linejoin="round"/>
<text x="838.00" y="1863.00" text-anchor="end" font-size="33" >Exact</text>
<text x="838.00" y="1911.00" text-anchor="end" font-size="33" >LDA</text>
<line x1="853.30" y1="1852.30" x2="940.10" y2="1852.30" stroke="#9400d3" stroke-width="4.5"/>
<line x1="853.30" y1="1900.40" x2="940.10" y2="1900.40" stroke="#009e73" stroke-width="4.5"/>
</svg>
</body></html>
